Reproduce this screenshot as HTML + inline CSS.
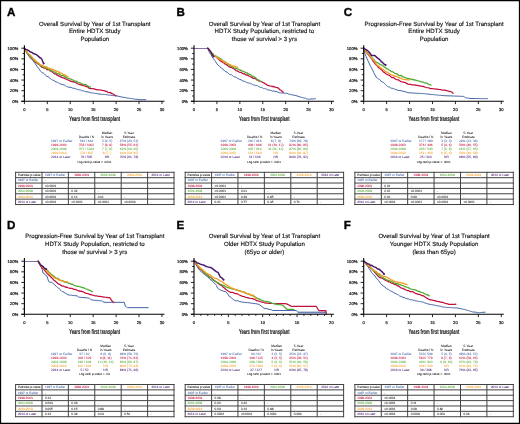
<!DOCTYPE html>
<html><head><meta charset="utf-8"><style>
html,body{margin:0;padding:0;background:#fff;width:520px;height:424px;overflow:hidden}
svg{display:block;font-family:"Liberation Sans", sans-serif}
#wrap{will-change:transform;width:520px;height:424px}
</style></head><body><div id="wrap">
<svg width="520" height="424" viewBox="0 0 520 424" text-rendering="geometricPrecision">
<rect x="0" y="0" width="520" height="424" fill="#fff"/>
<text x="6.9" y="16.4" font-size="11.6" fill="#000" text-anchor="start" font-weight="bold" stroke="#000" stroke-width="0.35" >A</text>
<text x="94.8" y="25.5" font-size="6.1" fill="#111" text-anchor="middle" font-weight="normal" stroke="#111" stroke-width="0.14" >Overall Survival by Year of 1st Transplant</text>
<text x="94.8" y="33.05" font-size="6.1" fill="#111" text-anchor="middle" font-weight="normal" stroke="#111" stroke-width="0.14" >Entire HDTX Study</text>
<text x="94.8" y="40.6" font-size="6.1" fill="#111" text-anchor="middle" font-weight="normal" stroke="#111" stroke-width="0.14" >Population</text>
<path d="M24.4,48.2 L25.49,50.26 L26.57,52.52 L27.66,54.57 L28.91,56.04 L30.16,57.93 L31.42,59.19 L32.6,60.33 L33.78,61.75 L34.96,63.35 L36.14,64.93 L37.33,66.91 L38.52,68.23 L39.71,70.07 L40.91,71.56 L42.09,72.73 L43.27,72.99 L44.45,73.88 L45.63,75.28 L46.8,76.51 L47.97,76.53 L49.14,77.57 L50.31,78.47 L51.49,79.31 L52.67,80.13 L53.85,80.49 L55.03,81.39 L56.19,81.96 L57.35,82.27 L58.51,82.83 L59.67,83.86 L60.84,83.79 L62,84.57 L63.14,84.6 L64.28,85 L65.42,85.67 L66.56,86.5 L67.7,86.92 L68.84,87.22 L69.97,87.33 L71.02,87.35 L72.06,88.01 L73.11,88.25 L74.15,88.21 L75.19,88.83 L76.24,88.97 L77.28,89.32 L78.33,89.81 L79.37,89.78 L80.41,89.91 L81.46,90.59 L82.5,90.83 L83.55,90.95 L84.66,91.28 L85.78,91.77 L86.89,91.8 L88.01,91.9 L89.12,92.27 L90.24,92.64 L91.33,92.79 L92.42,92.85 L93.51,93.24 L94.6,93.26 L95.69,93.48 L96.78,93.57 L97.87,93.88 L98.96,93.83 L100.05,94.08 L101.15,94.27 L102.25,94.36 L103.35,94.33 L104.45,94.5 L105.5,94.51 L106.54,94.77 L107.58,94.9 L108.62,95.07 L109.66,95.19 L110.71,95.23 L111.75,95.47 L112.79,95.61 L113.83,95.64 L114.87,95.85 L115.92,95.88 L116.94,96.01 L117.97,96.13 L119,96.33 L120.03,96.64 L121.06,96.87 L122.09,97.02 L123.12,97.38 L124.14,97.29 L125.17,97.62 L126.2,97.81 L127.23,98.1 L128.26,98.13 L129.29,98.27 L130.31,98.49 L131.4,98.67 L132.49,98.68 L133.58,98.89 L134.67,99.18 L135.76,99.24 L136.85,99.28 L137.94,99.55 L139.03,99.71 L145.9,99.71" fill="none" stroke="#4563a8" stroke-width="1.0" stroke-linejoin="round" stroke-linecap="round"/>
<path d="M24.4,48.2 L25.47,50.02 L26.54,51.68 L27.61,53.51 L28.88,54.52 L30.15,56.37 L31.42,57.76 L32.6,58.95 L33.78,60.06 L34.96,61.64 L36.14,62.54 L37.33,63.45 L38.52,64.27 L39.71,65.04 L40.91,66.25 L41.95,67.17 L42.99,67.5 L44.04,68.24 L45.08,68.08 L46.13,68.72 L47.17,69.88 L48.22,69.51 L49.26,70.06 L50.31,71.03 L51.37,71.47 L52.43,72.08 L53.49,73.1 L54.56,73.81 L55.62,73.9 L56.68,74.93 L57.75,75.38 L58.81,75.91 L59.87,76.7 L60.93,76.86 L62,77.41 L63.14,77.96 L64.28,78.08 L65.42,78.89 L66.56,79.27 L67.7,79.91 L68.84,80.25 L69.97,80.91 L71.02,81.31 L72.06,81.81 L73.11,81.62 L74.15,81.98 L75.19,82.47 L76.24,82.93 L77.28,83.6 L78.33,84.03 L79.37,84.34 L80.41,84.87 L81.46,84.7 L82.5,85.35 L83.55,85.64 L84.66,85.78 L85.78,86.62 L86.89,86.56 L88.01,87.1 L89.12,88.28 L90.24,88.29 L91.29,88.63 L92.33,88.53 L93.38,88.94 L94.42,88.93 L95.47,89.35 L96.61,89.54 L97.76,89.8 L98.91,89.79 L100.05,89.99 L101.15,90.07 L102.25,90.41 L103.35,90.65 L104.45,90.68 L105.59,91.37 L106.72,91.3 L107.85,92.27 L109.22,92.54 L110.6,92.27 L111.51,93.6 L112.66,93.8 L113.81,94.4 L114.86,95.37 L115.92,95.62" fill="none" stroke="#c20f3e" stroke-width="1.25" stroke-linejoin="round" stroke-linecap="round"/>
<path d="M24.4,48.2 L25.47,49.99 L26.54,51.59 L27.61,53.51 L28.88,54.59 L30.15,56.33 L31.42,57.23 L32.6,58.89 L33.78,59.74 L34.96,61.03 L36.14,62.01 L37.33,62.64 L38.52,63.68 L39.71,64.7 L40.91,65.72 L41.95,66.14 L42.99,66.51 L44.04,67.48 L45.08,67.67 L46.13,68.41 L47.17,68.17 L48.22,69.45 L49.26,69.19 L50.31,69.97 L51.37,70.88 L52.43,70.81 L53.49,71.65 L54.56,72.09 L55.62,72.18 L56.68,73.47 L57.75,73.94 L58.81,73.63 L59.87,74.52 L60.93,75.43 L62,75.55 L63.14,75.57 L64.28,76.07 L65.42,77.28 L66.56,77.47 L67.7,78.19 L68.84,78.49 L69.97,78.79 L71.02,79.11 L72.07,79.97 L73.12,79.92 L74.17,80.94 L75.22,81.27 L76.27,81.12 L77.32,81.93 L78.37,82.35 L79.42,82.72 L80.44,83.03 L81.45,83.53 L82.47,84 L83.49,84.7 L84.51,84.5 L85.52,84.69 L86.54,85.08 L87.56,85.74 L88.57,86.4 L89.59,86.79 L90.61,87.07" fill="none" stroke="#55aa36" stroke-width="1.3" stroke-linejoin="round" stroke-linecap="round"/>
<path d="M24.4,48.2 L25.47,50.02 L26.54,51.21 L27.61,52.98 L28.88,53.94 L30.15,54.91 L31.42,56.38 L32.6,57.86 L33.78,59 L34.96,60.26 L36.14,61.1 L37.33,62.32 L38.52,62.79 L39.71,64.32 L40.91,64.93 L41.95,65.31 L42.99,65.99 L44.04,66.32 L45.08,66.61 L46.13,66.67 L47.17,67.28 L48.22,68.19 L49.26,68.38 L50.31,68.59 L51.37,69.4 L52.43,69.18 L53.49,69.71 L54.56,70.19 L55.62,70.64 L56.68,71.19 L57.75,71.47 L58.81,72.09 L59.87,73.08 L60.93,72.99 L62,73.79 L63.19,74.37 L64.38,74.68 L65.57,75.42 L66.77,76.11 L67.96,76.61" fill="none" stroke="#f39c1e" stroke-width="1.3" stroke-linejoin="round" stroke-linecap="round"/>
<path d="M24.4,48.2 L25.78,49.37 L27.15,49.79 L28.27,50.36 L29.38,51.17 L30.5,52.08 L31.68,52.16 L32.86,53.27 L34.04,53.77 L35.22,54.04 L36.32,54.6 L37.42,55.45 L38.52,56.38 L39.62,57.5 L40.72,58.08 L41.82,59.19 L42.97,62.01 L43.66,63.44" fill="none" stroke="#45166e" stroke-width="1.45" stroke-linejoin="round" stroke-linecap="round"/>
<circle cx="43.66" cy="63.44" r="0.95" fill="#45166e"/>
<path d="M24.4,45.3 V101.3" stroke="#000" stroke-width="1.1" fill="none"/>
<path d="M21.3,101.3 H24.4 M22.6,95.99 H24.4 M21.3,90.68 H24.4 M22.6,85.37 H24.4 M21.3,80.06 H24.4 M22.6,74.75 H24.4 M21.3,69.44 H24.4 M22.6,64.13 H24.4 M21.3,58.82 H24.4 M22.6,53.51 H24.4 M21.3,48.2 H24.4" stroke="#000" stroke-width="0.85" fill="none"/>
<text x="18.2" y="102.8" font-size="4.2" fill="#222" text-anchor="end" font-weight="normal" stroke="#222" stroke-width="0.2" >0%</text>
<text x="18.2" y="92.18" font-size="4.2" fill="#222" text-anchor="end" font-weight="normal" stroke="#222" stroke-width="0.2" >20%</text>
<text x="18.2" y="81.56" font-size="4.2" fill="#222" text-anchor="end" font-weight="normal" stroke="#222" stroke-width="0.2" >40%</text>
<text x="18.2" y="70.94" font-size="4.2" fill="#222" text-anchor="end" font-weight="normal" stroke="#222" stroke-width="0.2" >60%</text>
<text x="18.2" y="60.32" font-size="4.2" fill="#222" text-anchor="end" font-weight="normal" stroke="#222" stroke-width="0.2" >80%</text>
<text x="18.2" y="49.7" font-size="4.2" fill="#222" text-anchor="end" font-weight="normal" stroke="#222" stroke-width="0.2" >100%</text>
<path d="M21.3,101.3 H164.45" stroke="#000" stroke-width="1.1" fill="none"/>
<path d="M24.4,101.3 V104.1 M47.33,101.3 V104.1 M70.25,101.3 V104.1 M93.18,101.3 V104.1 M116.1,101.3 V104.1 M139.03,101.3 V104.1 M161.95,101.3 V104.1" stroke="#000" stroke-width="0.85" fill="none"/>
<text x="24.4" y="111.1" font-size="4.1" fill="#222" text-anchor="middle" font-weight="normal" stroke="#222" stroke-width="0.2" >0</text>
<text x="47.33" y="111.1" font-size="4.1" fill="#222" text-anchor="middle" font-weight="normal" stroke="#222" stroke-width="0.2" >5</text>
<text x="70.25" y="111.1" font-size="4.1" fill="#222" text-anchor="middle" font-weight="normal" stroke="#222" stroke-width="0.2" >10</text>
<text x="93.18" y="111.1" font-size="4.1" fill="#222" text-anchor="middle" font-weight="normal" stroke="#222" stroke-width="0.2" >15</text>
<text x="116.1" y="111.1" font-size="4.1" fill="#222" text-anchor="middle" font-weight="normal" stroke="#222" stroke-width="0.2" >20</text>
<text x="139.03" y="111.1" font-size="4.1" fill="#222" text-anchor="middle" font-weight="normal" stroke="#222" stroke-width="0.2" >25</text>
<text x="161.95" y="111.1" font-size="4.1" fill="#222" text-anchor="middle" font-weight="normal" stroke="#222" stroke-width="0.2" >30</text>
<text x="0" y="0" font-size="6.8" font-weight="bold" fill="#1a1a1a" stroke="#1a1a1a" stroke-width="0.12" transform="translate(69.3,121.1) scale(0.6,1)">Years from first transplant</text>
<text x="86.5" y="138.2" font-size="3.25" fill="#111" text-anchor="middle" font-weight="normal" stroke="#111" stroke-width="0.04" >Deaths / N</text>
<text x="107.1" y="134.2" font-size="3.25" fill="#111" text-anchor="middle" font-weight="normal" stroke="#111" stroke-width="0.04" >Median</text>
<text x="107.1" y="138.2" font-size="3.25" fill="#111" text-anchor="middle" font-weight="normal" stroke="#111" stroke-width="0.04" >in Years</text>
<text x="129" y="134.2" font-size="3.25" fill="#111" text-anchor="middle" font-weight="normal" stroke="#111" stroke-width="0.04" >5-Year</text>
<text x="129" y="138.2" font-size="3.25" fill="#111" text-anchor="middle" font-weight="normal" stroke="#111" stroke-width="0.04" >Estimate</text>
<text x="51" y="142.4" font-size="3.25" fill="#4563a8" text-anchor="start" font-weight="normal" stroke="#4563a8" stroke-width="0.04" >1997 or Earlier</text>
<text x="86.5" y="142.4" font-size="3.25" fill="#4563a8" text-anchor="middle" font-weight="normal" stroke="#4563a8" stroke-width="0.04" >543 / 661</text>
<text x="107.1" y="142.4" font-size="3.25" fill="#4563a8" text-anchor="middle" font-weight="normal" stroke="#4563a8" stroke-width="0.04" >5 (4, 5)</text>
<text x="129" y="142.4" font-size="3.25" fill="#4563a8" text-anchor="middle" font-weight="normal" stroke="#4563a8" stroke-width="0.04" >47% (43, 51)</text>
<text x="51" y="146.28" font-size="3.25" fill="#c20f3e" text-anchor="start" font-weight="normal" stroke="#c20f3e" stroke-width="0.04" >1998-2003</text>
<text x="86.5" y="146.28" font-size="3.25" fill="#c20f3e" text-anchor="middle" font-weight="normal" stroke="#c20f3e" stroke-width="0.04" >758 / 1002</text>
<text x="107.1" y="146.28" font-size="3.25" fill="#c20f3e" text-anchor="middle" font-weight="normal" stroke="#c20f3e" stroke-width="0.04" >7 (6, 8)</text>
<text x="129" y="146.28" font-size="3.25" fill="#c20f3e" text-anchor="middle" font-weight="normal" stroke="#c20f3e" stroke-width="0.04" >58% (55, 61)</text>
<text x="51" y="150.16" font-size="3.25" fill="#55aa36" text-anchor="start" font-weight="normal" stroke="#55aa36" stroke-width="0.04" >2004-2008</text>
<text x="86.5" y="150.16" font-size="3.25" fill="#55aa36" text-anchor="middle" font-weight="normal" stroke="#55aa36" stroke-width="0.04" >767 / 1264</text>
<text x="107.1" y="150.16" font-size="3.25" fill="#55aa36" text-anchor="middle" font-weight="normal" stroke="#55aa36" stroke-width="0.04" >7 (7, 8)</text>
<text x="129" y="150.16" font-size="3.25" fill="#55aa36" text-anchor="middle" font-weight="normal" stroke="#55aa36" stroke-width="0.04" >62% (60, 65)</text>
<text x="51" y="154.04" font-size="3.25" fill="#f39c1e" text-anchor="start" font-weight="normal" stroke="#f39c1e" stroke-width="0.04" >2009-2013</text>
<text x="86.5" y="154.04" font-size="3.25" fill="#f39c1e" text-anchor="middle" font-weight="normal" stroke="#f39c1e" stroke-width="0.04" >274 / 807</text>
<text x="107.1" y="154.04" font-size="3.25" fill="#f39c1e" text-anchor="middle" font-weight="normal" stroke="#f39c1e" stroke-width="0.04" >8 (7, )</text>
<text x="129" y="154.04" font-size="3.25" fill="#f39c1e" text-anchor="middle" font-weight="normal" stroke="#f39c1e" stroke-width="0.04" >61% (58, 65)</text>
<text x="51" y="157.92" font-size="3.25" fill="#45166e" text-anchor="start" font-weight="normal" stroke="#45166e" stroke-width="0.04" >2014 or Later</text>
<text x="86.5" y="157.92" font-size="3.25" fill="#45166e" text-anchor="middle" font-weight="normal" stroke="#45166e" stroke-width="0.04" >76 / 505</text>
<text x="107.1" y="157.92" font-size="3.25" fill="#45166e" text-anchor="middle" font-weight="normal" stroke="#45166e" stroke-width="0.04" >NR</text>
<text x="129" y="157.92" font-size="3.25" fill="#45166e" text-anchor="middle" font-weight="normal" stroke="#45166e" stroke-width="0.04" >70% (61, 78)</text>
<text x="94.4" y="163" font-size="3.05" fill="#111" text-anchor="middle" font-weight="normal" stroke="#111" stroke-width="0.04" >Log-rank p-value &lt; .0001</text>
<path d="M15.6,172.3 V204.52 M42,172.3 V204.52 M68.35,172.3 V204.52 M94.75,172.3 V204.52 M121.2,172.3 V204.52 M147.6,172.3 V204.52 M174,172.3 V204.52 M15.6,172.3 H174 M15.6,177.67 H174 M15.6,183.04 H174 M15.6,188.41 H174 M15.6,193.78 H174 M15.6,199.15 H174 M15.6,204.52 H174" stroke="#444" stroke-width="1.0" fill="none" stroke-linecap="square"/>
<text x="17.9" y="176.1" font-size="3.1" fill="#111" text-anchor="start" font-weight="normal" stroke="#111" stroke-width="0.045" >Pairwise p-value</text>
<text x="55.17" y="176.1" font-size="3.1" fill="#4563a8" text-anchor="middle" font-weight="normal" stroke="#4563a8" stroke-width="0.045" >1997 or Earlier</text>
<text x="81.55" y="176.1" font-size="3.1" fill="#c20f3e" text-anchor="middle" font-weight="normal" stroke="#c20f3e" stroke-width="0.045" >1998-2003</text>
<text x="107.97" y="176.1" font-size="3.1" fill="#55aa36" text-anchor="middle" font-weight="normal" stroke="#55aa36" stroke-width="0.045" >2004-2008</text>
<text x="134.4" y="176.1" font-size="3.1" fill="#f39c1e" text-anchor="middle" font-weight="normal" stroke="#f39c1e" stroke-width="0.045" >2009-2013</text>
<text x="160.8" y="176.1" font-size="3.1" fill="#45166e" text-anchor="middle" font-weight="normal" stroke="#45166e" stroke-width="0.045" >2014 or Later</text>
<text x="17.9" y="181.47" font-size="3.1" fill="#4563a8" text-anchor="start" font-weight="normal" stroke="#4563a8" stroke-width="0.045" >1997 or Earlier</text>
<text x="45" y="181.47" font-size="3.1" fill="#222" text-anchor="start" font-weight="normal" stroke="#222" stroke-width="0.045" >-</text>
<text x="17.9" y="186.84" font-size="3.1" fill="#c20f3e" text-anchor="start" font-weight="normal" stroke="#c20f3e" stroke-width="0.045" >1998-2003</text>
<text x="45" y="186.84" font-size="3.1" fill="#222" text-anchor="start" font-weight="normal" stroke="#222" stroke-width="0.045" >&lt;0.0001</text>
<text x="71.35" y="186.84" font-size="3.1" fill="#222" text-anchor="start" font-weight="normal" stroke="#222" stroke-width="0.045" >-</text>
<text x="17.9" y="192.21" font-size="3.1" fill="#55aa36" text-anchor="start" font-weight="normal" stroke="#55aa36" stroke-width="0.045" >2004-2008</text>
<text x="45" y="192.21" font-size="3.1" fill="#222" text-anchor="start" font-weight="normal" stroke="#222" stroke-width="0.045" >&lt;0.0001</text>
<text x="71.35" y="192.21" font-size="3.1" fill="#222" text-anchor="start" font-weight="normal" stroke="#222" stroke-width="0.045" >0.42</text>
<text x="97.75" y="192.21" font-size="3.1" fill="#222" text-anchor="start" font-weight="normal" stroke="#222" stroke-width="0.045" >-</text>
<text x="17.9" y="197.58" font-size="3.1" fill="#f39c1e" text-anchor="start" font-weight="normal" stroke="#f39c1e" stroke-width="0.045" >2009-2013</text>
<text x="45" y="197.58" font-size="3.1" fill="#222" text-anchor="start" font-weight="normal" stroke="#222" stroke-width="0.045" >&lt;0.0001</text>
<text x="71.35" y="197.58" font-size="3.1" fill="#222" text-anchor="start" font-weight="normal" stroke="#222" stroke-width="0.045" >0.16</text>
<text x="97.75" y="197.58" font-size="3.1" fill="#222" text-anchor="start" font-weight="normal" stroke="#222" stroke-width="0.045" >0.61</text>
<text x="124.2" y="197.58" font-size="3.1" fill="#222" text-anchor="start" font-weight="normal" stroke="#222" stroke-width="0.045" >-</text>
<text x="17.9" y="202.95" font-size="3.1" fill="#45166e" text-anchor="start" font-weight="normal" stroke="#45166e" stroke-width="0.045" >2014 or Later</text>
<text x="45" y="202.95" font-size="3.1" fill="#222" text-anchor="start" font-weight="normal" stroke="#222" stroke-width="0.045" >&lt;0.0001</text>
<text x="71.35" y="202.95" font-size="3.1" fill="#222" text-anchor="start" font-weight="normal" stroke="#222" stroke-width="0.045" >&lt;0.0001</text>
<text x="97.75" y="202.95" font-size="3.1" fill="#222" text-anchor="start" font-weight="normal" stroke="#222" stroke-width="0.045" >&lt;0.0001</text>
<text x="124.2" y="202.95" font-size="3.1" fill="#222" text-anchor="start" font-weight="normal" stroke="#222" stroke-width="0.045" >&lt;0.0003</text>
<text x="150.6" y="202.95" font-size="3.1" fill="#222" text-anchor="start" font-weight="normal" stroke="#222" stroke-width="0.045" >-</text>
<text x="176.5" y="16.4" font-size="11.6" fill="#000" text-anchor="start" font-weight="bold" stroke="#000" stroke-width="0.35" >B</text>
<text x="264.4" y="25.5" font-size="6.1" fill="#111" text-anchor="middle" font-weight="normal" stroke="#111" stroke-width="0.14" >Overall Survival by Year of 1st Transplant</text>
<text x="264.4" y="33.05" font-size="6.1" fill="#111" text-anchor="middle" font-weight="normal" stroke="#111" stroke-width="0.14" >HDTX Study Population, restricted to</text>
<text x="264.4" y="40.6" font-size="6.1" fill="#111" text-anchor="middle" font-weight="normal" stroke="#111" stroke-width="0.14" >those w/ survival &gt; 3 yrs</text>
<path d="M194,48.5 H207.75" stroke="#6a4a90" stroke-width="0.8" fill="none"/>
<path d="M207.75,48.2 L209.45,52.61 L210.9,54.53 L212.34,57.23 L213.49,58.72 L214.63,60.32 L215.78,61.86 L216.93,63.92 L218.13,65.32 L219.33,66.12 L220.54,67.04 L221.74,68.59 L222.85,69.04 L223.96,70.13 L225.06,71.32 L226.17,71.9 L227.28,72.15 L228.39,73.42 L229.43,74.36 L230.47,74.71 L231.51,74.66 L232.56,75.69 L233.6,76.48 L234.64,76.93 L235.68,76.92 L236.72,78.02 L237.77,78.49 L238.81,78.85 L239.85,79.53 L240.95,79.69 L242.05,80.39 L243.15,81.16 L244.25,81.17 L245.35,81.65 L246.37,82.4 L247.39,82.72 L248.41,83.02 L249.43,82.98 L250.45,83.69 L251.47,83.73 L252.48,84.53 L253.5,84.93 L254.52,85 L255.54,85.72 L256.55,85.55 L257.57,85.79 L258.58,86.64 L259.6,86.98 L260.61,87.51 L261.63,87.38 L262.64,88 L263.66,88.49 L264.67,88.45 L265.69,88.84 L266.7,89.32 L267.72,89.9 L268.74,89.99 L269.78,90.17 L270.82,90.47 L271.86,90.79 L272.9,91.19 L273.95,91.04 L274.99,91.33 L276.03,91.68 L277.07,91.77 L278.11,92.25 L279.16,92.63 L280.2,92.8 L281.3,92.99 L282.4,92.99 L283.5,93.12 L284.6,93.24 L285.7,93.33 L286.72,93.32 L287.74,93.63 L288.76,94.24 L289.78,94.08 L290.79,94.77 L291.81,94.67 L292.83,95.08 L293.85,95.11 L294.87,95.46 L295.93,95.48 L296.99,96.01 L298.04,96.16 L299.1,96.87 L300.16,96.79 L301.22,97.4 L302.28,97.49 L303.33,97.85 L304.39,98.29 L305.45,98.17 L306.51,98.85 L307.57,99.03 L308.62,99.18 L309.77,99.16 L310.92,98.97 L312.06,98.94 L313.21,98.9 L314.36,98.81 L315.5,98.64" fill="none" stroke="#4563a8" stroke-width="1.0" stroke-linejoin="round" stroke-linecap="round"/>
<path d="M207.75,48.2 L208.79,49.98 L209.82,50.94 L210.85,52.45 L211.88,54.04 L213,54.92 L214.12,56.02 L215.24,56.33 L216.36,57.17 L217.49,58.31 L218.61,59.17 L219.73,60.28 L220.85,61.36 L221.97,61.74 L223.06,62.56 L224.15,63.05 L225.24,64.24 L226.32,64.25 L227.41,65.48 L228.5,66.18 L229.59,67.06 L230.68,67.32 L231.73,67.4 L232.79,68.2 L233.84,68.62 L234.9,69.42 L235.95,70.53 L237.01,70.81 L238.06,71.2 L239.12,72.12 L240.17,72.31 L241.21,72.32 L242.24,73.28 L243.28,73.89 L244.32,73.72 L245.35,74.43 L246.37,75.24 L247.39,74.92 L248.41,75.82 L249.43,76.18 L250.45,76.82 L251.47,77.14 L252.48,77.87 L253.5,78.46 L254.52,78.47 L255.56,78.65 L256.6,79.78 L257.64,79.79 L258.68,80.87 L259.72,80.67 L260.76,81.65 L261.9,81.85 L263.04,82.56 L264.18,83.13 L265.32,83.88 L266.46,84.32 L267.6,85.47 L268.74,85.69 L269.78,85.94 L270.82,86 L271.87,86.55 L272.91,86.42 L273.96,86.68 L275,87.15 L276.05,87.41 L277.09,87.6 L278.13,87.81 L279.17,89.01 L280.2,89.99 L281.27,90.28 L282.34,91.62 L283.41,92.27" fill="none" stroke="#c20f3e" stroke-width="1.25" stroke-linejoin="round" stroke-linecap="round"/>
<path d="M207.75,48.2 L208.79,49.09 L209.82,51.2 L210.85,52.64 L211.88,53.51 L213,53.74 L214.12,55.23 L215.24,56 L216.36,56.2 L217.49,57.2 L218.61,57.39 L219.73,58.72 L220.85,58.73 L221.97,59.88 L223.06,60.85 L224.15,61.38 L225.24,61.86 L226.32,62.89 L227.41,63.46 L228.5,64.46 L229.59,65.89 L230.68,66.25 L231.73,66.34 L232.79,67.06 L233.84,67.76 L234.9,68.31 L235.95,68.14 L237.01,68.83 L238.06,68.95 L239.12,69.54 L240.17,70.24 L241.21,70.24 L242.24,71.01 L243.28,71.3 L244.32,71.79 L245.35,72.31 L246.37,73.08 L247.39,72.96 L248.41,74.12 L249.43,74.21 L250.45,74.59 L251.47,75.42 L252.48,76.45 L253.5,76.34 L254.52,77.19 L255.56,77.75 L256.6,78.93 L257.64,79.77 L258.68,80.03 L259.72,81.22 L260.76,81.49" fill="none" stroke="#55aa36" stroke-width="1.3" stroke-linejoin="round" stroke-linecap="round"/>
<path d="M207.75,48.2 L208.79,49.25 L209.82,50.69 L210.85,52.21 L211.88,54.04 L213,55.15 L214.12,55.37 L215.24,56.24 L216.36,56.84 L217.49,57.93 L218.61,58.58 L219.73,59.05 L220.85,59.97 L221.97,60.41 L223.06,61.05 L224.15,62.06 L225.24,62.6 L226.32,62.6 L227.41,63.48 L228.5,63.99 L229.59,64.37 L230.68,65.19 L231.83,65.64 L232.97,66.2 L234.12,66.06 L235.26,66.55 L236.41,66.85 L237.56,67.32" fill="none" stroke="#f39c1e" stroke-width="1.3" stroke-linejoin="round" stroke-linecap="round"/>
<path d="M207.75,48.2 L208.9,49.32 L210.05,50.86 L211.19,52.39 L212.34,54.88 L213.49,56.43" fill="none" stroke="#45166e" stroke-width="1.45" stroke-linejoin="round" stroke-linecap="round"/>
<circle cx="213.49" cy="56.43" r="0.95" fill="#45166e"/>
<path d="M194,45.3 V101.3" stroke="#000" stroke-width="1.1" fill="none"/>
<path d="M190.9,101.3 H194 M192.2,95.99 H194 M190.9,90.68 H194 M192.2,85.37 H194 M190.9,80.06 H194 M192.2,74.75 H194 M190.9,69.44 H194 M192.2,64.13 H194 M190.9,58.82 H194 M192.2,53.51 H194 M190.9,48.2 H194" stroke="#000" stroke-width="0.85" fill="none"/>
<text x="187.8" y="102.8" font-size="4.2" fill="#222" text-anchor="end" font-weight="normal" stroke="#222" stroke-width="0.2" >0%</text>
<text x="187.8" y="92.18" font-size="4.2" fill="#222" text-anchor="end" font-weight="normal" stroke="#222" stroke-width="0.2" >20%</text>
<text x="187.8" y="81.56" font-size="4.2" fill="#222" text-anchor="end" font-weight="normal" stroke="#222" stroke-width="0.2" >40%</text>
<text x="187.8" y="70.94" font-size="4.2" fill="#222" text-anchor="end" font-weight="normal" stroke="#222" stroke-width="0.2" >60%</text>
<text x="187.8" y="60.32" font-size="4.2" fill="#222" text-anchor="end" font-weight="normal" stroke="#222" stroke-width="0.2" >80%</text>
<text x="187.8" y="49.7" font-size="4.2" fill="#222" text-anchor="end" font-weight="normal" stroke="#222" stroke-width="0.2" >100%</text>
<path d="M190.9,101.3 H334.05" stroke="#000" stroke-width="1.1" fill="none"/>
<path d="M194,101.3 V104.1 M216.93,101.3 V104.1 M239.85,101.3 V104.1 M262.77,101.3 V104.1 M285.7,101.3 V104.1 M308.62,101.3 V104.1 M331.55,101.3 V104.1" stroke="#000" stroke-width="0.85" fill="none"/>
<text x="194" y="111.1" font-size="4.1" fill="#222" text-anchor="middle" font-weight="normal" stroke="#222" stroke-width="0.2" >0</text>
<text x="216.93" y="111.1" font-size="4.1" fill="#222" text-anchor="middle" font-weight="normal" stroke="#222" stroke-width="0.2" >5</text>
<text x="239.85" y="111.1" font-size="4.1" fill="#222" text-anchor="middle" font-weight="normal" stroke="#222" stroke-width="0.2" >10</text>
<text x="262.77" y="111.1" font-size="4.1" fill="#222" text-anchor="middle" font-weight="normal" stroke="#222" stroke-width="0.2" >15</text>
<text x="285.7" y="111.1" font-size="4.1" fill="#222" text-anchor="middle" font-weight="normal" stroke="#222" stroke-width="0.2" >20</text>
<text x="308.62" y="111.1" font-size="4.1" fill="#222" text-anchor="middle" font-weight="normal" stroke="#222" stroke-width="0.2" >25</text>
<text x="331.55" y="111.1" font-size="4.1" fill="#222" text-anchor="middle" font-weight="normal" stroke="#222" stroke-width="0.2" >30</text>
<text x="0" y="0" font-size="6.8" font-weight="bold" fill="#1a1a1a" stroke="#1a1a1a" stroke-width="0.12" transform="translate(238.9,121.1) scale(0.6,1)">Years from first transplant</text>
<text x="254.7" y="138.2" font-size="3.25" fill="#111" text-anchor="middle" font-weight="normal" stroke="#111" stroke-width="0.04" >Deaths / N</text>
<text x="275.8" y="134.2" font-size="3.25" fill="#111" text-anchor="middle" font-weight="normal" stroke="#111" stroke-width="0.04" >Median</text>
<text x="275.8" y="138.2" font-size="3.25" fill="#111" text-anchor="middle" font-weight="normal" stroke="#111" stroke-width="0.04" >in Years</text>
<text x="298.6" y="134.2" font-size="3.25" fill="#111" text-anchor="middle" font-weight="normal" stroke="#111" stroke-width="0.04" >5-Year</text>
<text x="298.6" y="138.2" font-size="3.25" fill="#111" text-anchor="middle" font-weight="normal" stroke="#111" stroke-width="0.04" >Estimate</text>
<text x="220.6" y="142.4" font-size="3.25" fill="#4563a8" text-anchor="start" font-weight="normal" stroke="#4563a8" stroke-width="0.04" >1997 or Earlier</text>
<text x="254.7" y="142.4" font-size="3.25" fill="#4563a8" text-anchor="middle" font-weight="normal" stroke="#4563a8" stroke-width="0.04" >265 / 416</text>
<text x="275.8" y="142.4" font-size="3.25" fill="#4563a8" text-anchor="middle" font-weight="normal" stroke="#4563a8" stroke-width="0.04" >8 (7, 9)</text>
<text x="298.6" y="142.4" font-size="3.25" fill="#4563a8" text-anchor="middle" font-weight="normal" stroke="#4563a8" stroke-width="0.04" >74% (69, 78)</text>
<text x="220.6" y="146.28" font-size="3.25" fill="#c20f3e" text-anchor="start" font-weight="normal" stroke="#c20f3e" stroke-width="0.04" >1998-2003</text>
<text x="254.7" y="146.28" font-size="3.25" fill="#c20f3e" text-anchor="middle" font-weight="normal" stroke="#c20f3e" stroke-width="0.04" >408 / 698</text>
<text x="275.8" y="146.28" font-size="3.25" fill="#c20f3e" text-anchor="middle" font-weight="normal" stroke="#c20f3e" stroke-width="0.04" >11 (10, 12)</text>
<text x="298.6" y="146.28" font-size="3.25" fill="#c20f3e" text-anchor="middle" font-weight="normal" stroke="#c20f3e" stroke-width="0.04" >82% (80, 85)</text>
<text x="220.6" y="150.16" font-size="3.25" fill="#55aa36" text-anchor="start" font-weight="normal" stroke="#55aa36" stroke-width="0.04" >2004-2008</text>
<text x="254.7" y="150.16" font-size="3.25" fill="#55aa36" text-anchor="middle" font-weight="normal" stroke="#55aa36" stroke-width="0.04" >435 / 914</text>
<text x="275.8" y="150.16" font-size="3.25" fill="#55aa36" text-anchor="middle" font-weight="normal" stroke="#55aa36" stroke-width="0.04" >11 (11, 12)</text>
<text x="298.6" y="150.16" font-size="3.25" fill="#55aa36" text-anchor="middle" font-weight="normal" stroke="#55aa36" stroke-width="0.04" >87% (85, 89)</text>
<text x="220.6" y="154.04" font-size="3.25" fill="#f39c1e" text-anchor="start" font-weight="normal" stroke="#f39c1e" stroke-width="0.04" >2009-2013</text>
<text x="254.7" y="154.04" font-size="3.25" fill="#f39c1e" text-anchor="middle" font-weight="normal" stroke="#f39c1e" stroke-width="0.04" >151 / 549</text>
<text x="275.8" y="154.04" font-size="3.25" fill="#f39c1e" text-anchor="middle" font-weight="normal" stroke="#f39c1e" stroke-width="0.04" >NR</text>
<text x="298.6" y="154.04" font-size="3.25" fill="#f39c1e" text-anchor="middle" font-weight="normal" stroke="#f39c1e" stroke-width="0.04" >84% (81, 87)</text>
<text x="220.6" y="157.92" font-size="3.25" fill="#45166e" text-anchor="start" font-weight="normal" stroke="#45166e" stroke-width="0.04" >2014 or Later</text>
<text x="254.7" y="157.92" font-size="3.25" fill="#45166e" text-anchor="middle" font-weight="normal" stroke="#45166e" stroke-width="0.04" >11 / 136</text>
<text x="275.8" y="157.92" font-size="3.25" fill="#45166e" text-anchor="middle" font-weight="normal" stroke="#45166e" stroke-width="0.04" >NR</text>
<text x="298.6" y="157.92" font-size="3.25" fill="#45166e" text-anchor="middle" font-weight="normal" stroke="#45166e" stroke-width="0.04" >84% (76, 92)</text>
<text x="264" y="163" font-size="3.05" fill="#111" text-anchor="middle" font-weight="normal" stroke="#111" stroke-width="0.04" >Log-rank p-value &lt; .0001</text>
<path d="M185.2,172.3 V204.52 M211.6,172.3 V204.52 M237.95,172.3 V204.52 M264.35,172.3 V204.52 M290.8,172.3 V204.52 M317.2,172.3 V204.52 M343.6,172.3 V204.52 M185.2,172.3 H343.6 M185.2,177.67 H343.6 M185.2,183.04 H343.6 M185.2,188.41 H343.6 M185.2,193.78 H343.6 M185.2,199.15 H343.6 M185.2,204.52 H343.6" stroke="#444" stroke-width="1.0" fill="none" stroke-linecap="square"/>
<text x="187.5" y="176.1" font-size="3.1" fill="#111" text-anchor="start" font-weight="normal" stroke="#111" stroke-width="0.045" >Pairwise p-value</text>
<text x="224.77" y="176.1" font-size="3.1" fill="#4563a8" text-anchor="middle" font-weight="normal" stroke="#4563a8" stroke-width="0.045" >1997 or Earlier</text>
<text x="251.15" y="176.1" font-size="3.1" fill="#c20f3e" text-anchor="middle" font-weight="normal" stroke="#c20f3e" stroke-width="0.045" >1998-2003</text>
<text x="277.57" y="176.1" font-size="3.1" fill="#55aa36" text-anchor="middle" font-weight="normal" stroke="#55aa36" stroke-width="0.045" >2004-2008</text>
<text x="304" y="176.1" font-size="3.1" fill="#f39c1e" text-anchor="middle" font-weight="normal" stroke="#f39c1e" stroke-width="0.045" >2009-2013</text>
<text x="330.4" y="176.1" font-size="3.1" fill="#45166e" text-anchor="middle" font-weight="normal" stroke="#45166e" stroke-width="0.045" >2014 or Later</text>
<text x="187.5" y="181.47" font-size="3.1" fill="#4563a8" text-anchor="start" font-weight="normal" stroke="#4563a8" stroke-width="0.045" >1997 or Earlier</text>
<text x="214.6" y="181.47" font-size="3.1" fill="#222" text-anchor="start" font-weight="normal" stroke="#222" stroke-width="0.045" >-</text>
<text x="187.5" y="186.84" font-size="3.1" fill="#c20f3e" text-anchor="start" font-weight="normal" stroke="#c20f3e" stroke-width="0.045" >1998-2003</text>
<text x="214.6" y="186.84" font-size="3.1" fill="#222" text-anchor="start" font-weight="normal" stroke="#222" stroke-width="0.045" >&lt;0.0001</text>
<text x="240.95" y="186.84" font-size="3.1" fill="#222" text-anchor="start" font-weight="normal" stroke="#222" stroke-width="0.045" >-</text>
<text x="187.5" y="192.21" font-size="3.1" fill="#55aa36" text-anchor="start" font-weight="normal" stroke="#55aa36" stroke-width="0.045" >2004-2008</text>
<text x="214.6" y="192.21" font-size="3.1" fill="#222" text-anchor="start" font-weight="normal" stroke="#222" stroke-width="0.045" >&lt;0.0001</text>
<text x="240.95" y="192.21" font-size="3.1" fill="#222" text-anchor="start" font-weight="normal" stroke="#222" stroke-width="0.045" >0.61</text>
<text x="267.35" y="192.21" font-size="3.1" fill="#222" text-anchor="start" font-weight="normal" stroke="#222" stroke-width="0.045" >-</text>
<text x="187.5" y="197.58" font-size="3.1" fill="#f39c1e" text-anchor="start" font-weight="normal" stroke="#f39c1e" stroke-width="0.045" >2009-2013</text>
<text x="214.6" y="197.58" font-size="3.1" fill="#222" text-anchor="start" font-weight="normal" stroke="#222" stroke-width="0.045" >&lt;0.0001</text>
<text x="240.95" y="197.58" font-size="3.1" fill="#222" text-anchor="start" font-weight="normal" stroke="#222" stroke-width="0.045" >0.49</text>
<text x="267.35" y="197.58" font-size="3.1" fill="#222" text-anchor="start" font-weight="normal" stroke="#222" stroke-width="0.045" >0.85</text>
<text x="293.8" y="197.58" font-size="3.1" fill="#222" text-anchor="start" font-weight="normal" stroke="#222" stroke-width="0.045" >-</text>
<text x="187.5" y="202.95" font-size="3.1" fill="#45166e" text-anchor="start" font-weight="normal" stroke="#45166e" stroke-width="0.045" >2014 or Later</text>
<text x="214.6" y="202.95" font-size="3.1" fill="#222" text-anchor="start" font-weight="normal" stroke="#222" stroke-width="0.045" >0.01</text>
<text x="240.95" y="202.95" font-size="3.1" fill="#222" text-anchor="start" font-weight="normal" stroke="#222" stroke-width="0.045" >0.77</text>
<text x="267.35" y="202.95" font-size="3.1" fill="#222" text-anchor="start" font-weight="normal" stroke="#222" stroke-width="0.045" >0.35</text>
<text x="293.8" y="202.95" font-size="3.1" fill="#222" text-anchor="start" font-weight="normal" stroke="#222" stroke-width="0.045" >0.76</text>
<text x="320.2" y="202.95" font-size="3.1" fill="#222" text-anchor="start" font-weight="normal" stroke="#222" stroke-width="0.045" >-</text>
<text x="343.7" y="16.4" font-size="11.6" fill="#000" text-anchor="start" font-weight="bold" stroke="#000" stroke-width="0.35" >C</text>
<text x="434.1" y="25.5" font-size="6.1" fill="#111" text-anchor="middle" font-weight="normal" stroke="#111" stroke-width="0.14" >Progression-Free Survival by Year of 1st Transplant</text>
<text x="434.1" y="33.05" font-size="6.1" fill="#111" text-anchor="middle" font-weight="normal" stroke="#111" stroke-width="0.14" >Entire HDTX Study</text>
<text x="434.1" y="40.6" font-size="6.1" fill="#111" text-anchor="middle" font-weight="normal" stroke="#111" stroke-width="0.14" >Population</text>
<path d="M363.7,48.2 L364.8,53.51 L366.24,56.79 L367.69,60.15 L368.93,62.86 L370.16,65.62 L371.4,67.69 L372.59,69.89 L373.79,72.66 L374.98,74.97 L376.17,77.09 L377.35,78.14 L378.53,78.86 L379.71,79.49 L380.89,80.91 L382.07,81.89 L383.26,82.32 L384.44,83.27 L385.62,84.68 L386.64,85.59 L387.67,86.43 L388.7,87.01 L389.72,87.03 L390.75,88.03 L391.78,88.29 L392.81,88.39 L393.85,88.69 L394.88,89.35 L395.89,89.52 L396.91,89.83 L397.92,90.32 L398.94,90.59 L399.95,90.42 L400.97,90.74 L401.98,90.94 L403,91.29 L404.02,91.48 L405.03,91.74 L406.05,91.85 L407.06,92.52 L408.08,92.56 L409.09,92.8 L410.11,92.88 L411.12,92.88 L412.14,92.93 L413.15,93.06 L414.17,93.14 L415.18,93.18 L416.2,93.23 L417.21,93.23 L418.23,93.33 L419.24,93.34 L420.26,93.45 L421.27,93.48 L422.29,93.58 L423.31,93.6 L424.45,93.7 L425.6,93.86 L426.74,93.91 L427.89,94.02 L429.04,94.26 L430.18,94.4 L431.24,94.58 L432.3,94.5 L433.36,94.6 L434.41,94.79 L435.47,94.89 L436.53,94.9 L437.59,95.13 L438.65,95.23 L439.71,95.24 L440.76,95.34 L441.82,95.44 L442.88,95.51 L443.94,95.67 L444.95,95.71 L445.96,95.75 L446.98,95.8 L447.99,95.84 L449.01,95.86 L450.02,95.89 L451.03,95.91 L452.05,95.95 L453.06,96 L454.07,96.04 L455.09,96.06 L456.1,96.12 L457.11,96.12 L458.13,96.17 L459.14,96.2 L460.15,96.26 L461.17,96.29 L462.18,96.31 L463.19,96.36 L464.34,96.64 L465.49,97.8 L466.59,97.93 L467.69,98.12 L468.79,98.16 L469.89,98.45 L470.99,98.49 L472.02,98.5 L473.05,98.52 L474.08,98.51 L475.12,98.53 L476.15,98.54 L477.18,98.54 L478.21,98.55 L479.24,98.58 L480.27,98.58 L481.31,98.6 L482.34,98.59 L483.37,98.61 L484.4,98.61 L485.43,98.63 L486.46,98.63 L487.5,98.64" fill="none" stroke="#4563a8" stroke-width="1.0" stroke-linejoin="round" stroke-linecap="round"/>
<path d="M363.7,48.2 L364.92,50.44 L366.15,52.11 L367.37,53.51 L368.71,55.21 L370.06,56.52 L371.4,58.29 L372.59,60.29 L373.79,61.98 L374.98,63.52 L376.17,64.93 L377.35,65.85 L378.53,67.6 L379.71,68.2 L380.89,69.6 L382.07,70.4 L383.26,71.86 L384.44,72.43 L385.62,73.42 L386.79,74.16 L387.95,74.89 L389.12,75.02 L390.29,76.18 L391.34,77.1 L392.38,77.69 L393.43,77.34 L394.47,78.38 L395.51,79.1 L396.56,79.5 L397.6,79.99 L398.65,79.95 L399.69,80.91 L400.74,81.52 L401.78,81.89 L402.83,81.97 L403.87,82.38 L404.91,82.44 L405.96,82.91 L407,83.67 L408.05,84.17 L409.09,84.31 L410.11,84.35 L411.12,84.45 L412.14,84.92 L413.15,84.84 L414.17,84.95 L415.18,85.17 L416.2,85.46 L417.21,85.42 L418.23,85.6 L419.24,85.93 L420.26,85.93 L421.27,86.22 L422.29,86.43 L423.31,86.43 L424.45,86.9 L425.6,87.25 L426.74,87.56 L427.89,87.75 L429.04,87.97 L430.18,88.56 L431.21,88.56 L432.25,88.65 L433.28,88.75 L434.31,88.89 L435.34,89.09 L436.37,89.22 L437.4,89.23 L438.44,89.35 L439.54,89.5 L440.64,89.62 L441.74,89.96 L442.84,90.09 L443.94,90.15 L445.01,90.18 L446.08,90.55 L447.15,90.72 L448.22,91.22 L449.29,91.3 L450.36,91.48 L451.73,92.01 L453.11,93.33" fill="none" stroke="#c20f3e" stroke-width="1.25" stroke-linejoin="round" stroke-linecap="round"/>
<path d="M363.7,48.2 L364.92,50.2 L366.15,51.66 L367.37,52.98 L368.71,54.58 L370.06,55.43 L371.4,57.23 L372.59,58.43 L373.79,59.41 L374.98,61.19 L376.17,62.01 L377.35,62.73 L378.53,63.14 L379.71,64.17 L380.89,64.93 L382.07,65.19 L383.26,65.94 L384.44,67.12 L385.62,67.69 L386.79,68.87 L387.95,68.85 L389.12,70.16 L390.29,70.5 L391.44,71.7 L392.59,71.74 L393.73,72.36 L394.88,73.42 L395.91,73.53 L396.93,73.83 L397.96,74.86 L398.99,75.35 L400.02,75.71 L401.05,75.39 L402.08,76.18 L403.25,76.89 L404.41,77.26 L405.58,77.77 L406.75,78.16 L407.92,78.57 L409.09,78.63 L410.11,78.96 L411.12,79.32 L412.14,79.49 L413.15,79.41 L414.17,80.08 L415.18,79.98 L416.2,80.27 L417.21,80.62 L418.23,80.87 L419.24,81.02 L420.26,81.37 L421.27,81.82 L422.29,82.02 L423.31,82.18 L424.42,82.79 L425.53,83.07 L426.65,83 L427.76,83.85 L428.87,84.54 L429.99,84.61 L431.1,85" fill="none" stroke="#55aa36" stroke-width="1.3" stroke-linejoin="round" stroke-linecap="round"/>
<path d="M363.7,48.2 L364.92,49.73 L366.15,51.26 L367.37,52.98 L368.71,54.27 L370.06,56.38 L371.4,57.76 L372.59,59.15 L373.79,60.46 L374.98,61.99 L376.17,63.92 L377.35,65.27 L378.53,65.87 L379.71,66.95 L380.89,68.11 L382.07,68.95 L383.26,69.34 L384.44,70.59 L385.62,71.46 L386.79,72.2 L387.95,72.41 L389.12,73.4 L390.29,74.22 L391.34,74.8 L392.38,75.21 L393.43,75.46 L394.47,76.26 L395.51,76.19 L396.56,76.49 L397.6,77.17 L398.65,77.22 L399.69,77.94 L400.88,78.06 L402.08,79 L403.25,79.16 L404.41,79.29 L405.58,79.66 L406.75,79.85 L407.92,79.72 L409.09,80.06" fill="none" stroke="#f39c1e" stroke-width="1.3" stroke-linejoin="round" stroke-linecap="round"/>
<path d="M363.7,48.2 L365.03,49 L366.36,49.78 L367.69,50.7 L368.93,51.94 L370.16,53.47 L371.4,55.42 L374.25,55.42 L375.47,56.01 L376.69,57.46 L377.91,58.29 L379.4,59.27 L380.89,61.1 L382.07,62.13 L383.26,63.2 L384.44,64.36 L385.62,64.93" fill="none" stroke="#45166e" stroke-width="1.45" stroke-linejoin="round" stroke-linecap="round"/>
<circle cx="385.62" cy="64.93" r="0.95" fill="#45166e"/>
<path d="M363.7,45.3 V101.3" stroke="#000" stroke-width="1.1" fill="none"/>
<path d="M360.6,101.3 H363.7 M361.9,95.99 H363.7 M360.6,90.68 H363.7 M361.9,85.37 H363.7 M360.6,80.06 H363.7 M361.9,74.75 H363.7 M360.6,69.44 H363.7 M361.9,64.13 H363.7 M360.6,58.82 H363.7 M361.9,53.51 H363.7 M360.6,48.2 H363.7" stroke="#000" stroke-width="0.85" fill="none"/>
<text x="357.5" y="102.8" font-size="4.2" fill="#222" text-anchor="end" font-weight="normal" stroke="#222" stroke-width="0.2" >0%</text>
<text x="357.5" y="92.18" font-size="4.2" fill="#222" text-anchor="end" font-weight="normal" stroke="#222" stroke-width="0.2" >20%</text>
<text x="357.5" y="81.56" font-size="4.2" fill="#222" text-anchor="end" font-weight="normal" stroke="#222" stroke-width="0.2" >40%</text>
<text x="357.5" y="70.94" font-size="4.2" fill="#222" text-anchor="end" font-weight="normal" stroke="#222" stroke-width="0.2" >60%</text>
<text x="357.5" y="60.32" font-size="4.2" fill="#222" text-anchor="end" font-weight="normal" stroke="#222" stroke-width="0.2" >80%</text>
<text x="357.5" y="49.7" font-size="4.2" fill="#222" text-anchor="end" font-weight="normal" stroke="#222" stroke-width="0.2" >100%</text>
<path d="M360.6,101.3 H503.75" stroke="#000" stroke-width="1.1" fill="none"/>
<path d="M363.7,101.3 V104.1 M386.62,101.3 V104.1 M409.55,101.3 V104.1 M432.48,101.3 V104.1 M455.4,101.3 V104.1 M478.32,101.3 V104.1 M501.25,101.3 V104.1" stroke="#000" stroke-width="0.85" fill="none"/>
<text x="363.7" y="111.1" font-size="4.1" fill="#222" text-anchor="middle" font-weight="normal" stroke="#222" stroke-width="0.2" >0</text>
<text x="386.62" y="111.1" font-size="4.1" fill="#222" text-anchor="middle" font-weight="normal" stroke="#222" stroke-width="0.2" >5</text>
<text x="409.55" y="111.1" font-size="4.1" fill="#222" text-anchor="middle" font-weight="normal" stroke="#222" stroke-width="0.2" >10</text>
<text x="432.48" y="111.1" font-size="4.1" fill="#222" text-anchor="middle" font-weight="normal" stroke="#222" stroke-width="0.2" >15</text>
<text x="455.4" y="111.1" font-size="4.1" fill="#222" text-anchor="middle" font-weight="normal" stroke="#222" stroke-width="0.2" >20</text>
<text x="478.32" y="111.1" font-size="4.1" fill="#222" text-anchor="middle" font-weight="normal" stroke="#222" stroke-width="0.2" >25</text>
<text x="501.25" y="111.1" font-size="4.1" fill="#222" text-anchor="middle" font-weight="normal" stroke="#222" stroke-width="0.2" >30</text>
<text x="0" y="0" font-size="6.8" font-weight="bold" fill="#1a1a1a" stroke="#1a1a1a" stroke-width="0.12" transform="translate(408.6,121.1) scale(0.6,1)">Years from first transplant</text>
<text x="425.8" y="138.2" font-size="3.25" fill="#111" text-anchor="middle" font-weight="normal" stroke="#111" stroke-width="0.04" >Deaths / N</text>
<text x="446.4" y="134.2" font-size="3.25" fill="#111" text-anchor="middle" font-weight="normal" stroke="#111" stroke-width="0.04" >Median</text>
<text x="446.4" y="138.2" font-size="3.25" fill="#111" text-anchor="middle" font-weight="normal" stroke="#111" stroke-width="0.04" >in Years</text>
<text x="468.3" y="134.2" font-size="3.25" fill="#111" text-anchor="middle" font-weight="normal" stroke="#111" stroke-width="0.04" >5-Year</text>
<text x="468.3" y="138.2" font-size="3.25" fill="#111" text-anchor="middle" font-weight="normal" stroke="#111" stroke-width="0.04" >Estimate</text>
<text x="390.3" y="142.4" font-size="3.25" fill="#4563a8" text-anchor="start" font-weight="normal" stroke="#4563a8" stroke-width="0.04" >1997 or Earlier</text>
<text x="425.8" y="142.4" font-size="3.25" fill="#4563a8" text-anchor="middle" font-weight="normal" stroke="#4563a8" stroke-width="0.04" >177 / 180</text>
<text x="446.4" y="142.4" font-size="3.25" fill="#4563a8" text-anchor="middle" font-weight="normal" stroke="#4563a8" stroke-width="0.04" >3 (3, 3)</text>
<text x="468.3" y="142.4" font-size="3.25" fill="#4563a8" text-anchor="middle" font-weight="normal" stroke="#4563a8" stroke-width="0.04" >29% (23, 36)</text>
<text x="390.3" y="146.28" font-size="3.25" fill="#c20f3e" text-anchor="start" font-weight="normal" stroke="#c20f3e" stroke-width="0.04" >1998-2003</text>
<text x="425.8" y="146.28" font-size="3.25" fill="#c20f3e" text-anchor="middle" font-weight="normal" stroke="#c20f3e" stroke-width="0.04" >376 / 496</text>
<text x="446.4" y="146.28" font-size="3.25" fill="#c20f3e" text-anchor="middle" font-weight="normal" stroke="#c20f3e" stroke-width="0.04" >5 (4, 6)</text>
<text x="468.3" y="146.28" font-size="3.25" fill="#c20f3e" text-anchor="middle" font-weight="normal" stroke="#c20f3e" stroke-width="0.04" >50% (46, 55)</text>
<text x="390.3" y="150.16" font-size="3.25" fill="#55aa36" text-anchor="start" font-weight="normal" stroke="#55aa36" stroke-width="0.04" >2004-2008</text>
<text x="425.8" y="150.16" font-size="3.25" fill="#55aa36" text-anchor="middle" font-weight="normal" stroke="#55aa36" stroke-width="0.04" >335 / 540</text>
<text x="446.4" y="150.16" font-size="3.25" fill="#55aa36" text-anchor="middle" font-weight="normal" stroke="#55aa36" stroke-width="0.04" >7 (6, 8)</text>
<text x="468.3" y="150.16" font-size="3.25" fill="#55aa36" text-anchor="middle" font-weight="normal" stroke="#55aa36" stroke-width="0.04" >61% (57, 65)</text>
<text x="390.3" y="154.04" font-size="3.25" fill="#f39c1e" text-anchor="start" font-weight="normal" stroke="#f39c1e" stroke-width="0.04" >2009-2013</text>
<text x="425.8" y="154.04" font-size="3.25" fill="#f39c1e" text-anchor="middle" font-weight="normal" stroke="#f39c1e" stroke-width="0.04" >251 / 450</text>
<text x="446.4" y="154.04" font-size="3.25" fill="#f39c1e" text-anchor="middle" font-weight="normal" stroke="#f39c1e" stroke-width="0.04" >6 (5, 6)</text>
<text x="468.3" y="154.04" font-size="3.25" fill="#f39c1e" text-anchor="middle" font-weight="normal" stroke="#f39c1e" stroke-width="0.04" >54% (49, 58)</text>
<text x="390.3" y="157.92" font-size="3.25" fill="#45166e" text-anchor="start" font-weight="normal" stroke="#45166e" stroke-width="0.04" >2014 or Later</text>
<text x="425.8" y="157.92" font-size="3.25" fill="#45166e" text-anchor="middle" font-weight="normal" stroke="#45166e" stroke-width="0.04" >25 / 110</text>
<text x="446.4" y="157.92" font-size="3.25" fill="#45166e" text-anchor="middle" font-weight="normal" stroke="#45166e" stroke-width="0.04" >NR</text>
<text x="468.3" y="157.92" font-size="3.25" fill="#45166e" text-anchor="middle" font-weight="normal" stroke="#45166e" stroke-width="0.04" >68% (55, 80)</text>
<text x="433.7" y="163" font-size="3.05" fill="#111" text-anchor="middle" font-weight="normal" stroke="#111" stroke-width="0.04" >Log-rank p-value &lt; .0001</text>
<path d="M354.9,172.3 V204.52 M381.3,172.3 V204.52 M407.65,172.3 V204.52 M434.05,172.3 V204.52 M460.5,172.3 V204.52 M486.9,172.3 V204.52 M513.3,172.3 V204.52 M354.9,172.3 H513.3 M354.9,177.67 H513.3 M354.9,183.04 H513.3 M354.9,188.41 H513.3 M354.9,193.78 H513.3 M354.9,199.15 H513.3 M354.9,204.52 H513.3" stroke="#444" stroke-width="1.0" fill="none" stroke-linecap="square"/>
<text x="357.2" y="176.1" font-size="3.1" fill="#111" text-anchor="start" font-weight="normal" stroke="#111" stroke-width="0.045" >Pairwise p-value</text>
<text x="394.48" y="176.1" font-size="3.1" fill="#4563a8" text-anchor="middle" font-weight="normal" stroke="#4563a8" stroke-width="0.045" >1997 or Earlier</text>
<text x="420.85" y="176.1" font-size="3.1" fill="#c20f3e" text-anchor="middle" font-weight="normal" stroke="#c20f3e" stroke-width="0.045" >1998-2003</text>
<text x="447.27" y="176.1" font-size="3.1" fill="#55aa36" text-anchor="middle" font-weight="normal" stroke="#55aa36" stroke-width="0.045" >2004-2008</text>
<text x="473.7" y="176.1" font-size="3.1" fill="#f39c1e" text-anchor="middle" font-weight="normal" stroke="#f39c1e" stroke-width="0.045" >2009-2013</text>
<text x="500.1" y="176.1" font-size="3.1" fill="#45166e" text-anchor="middle" font-weight="normal" stroke="#45166e" stroke-width="0.045" >2014 or Later</text>
<text x="357.2" y="181.47" font-size="3.1" fill="#4563a8" text-anchor="start" font-weight="normal" stroke="#4563a8" stroke-width="0.045" >1997 or Earlier</text>
<text x="384.3" y="181.47" font-size="3.1" fill="#222" text-anchor="start" font-weight="normal" stroke="#222" stroke-width="0.045" >-</text>
<text x="357.2" y="186.84" font-size="3.1" fill="#c20f3e" text-anchor="start" font-weight="normal" stroke="#c20f3e" stroke-width="0.045" >1998-2003</text>
<text x="384.3" y="186.84" font-size="3.1" fill="#222" text-anchor="start" font-weight="normal" stroke="#222" stroke-width="0.045" >0.01</text>
<text x="410.65" y="186.84" font-size="3.1" fill="#222" text-anchor="start" font-weight="normal" stroke="#222" stroke-width="0.045" >-</text>
<text x="357.2" y="192.21" font-size="3.1" fill="#55aa36" text-anchor="start" font-weight="normal" stroke="#55aa36" stroke-width="0.045" >2004-2008</text>
<text x="384.3" y="192.21" font-size="3.1" fill="#222" text-anchor="start" font-weight="normal" stroke="#222" stroke-width="0.045" >0.10</text>
<text x="410.65" y="192.21" font-size="3.1" fill="#222" text-anchor="start" font-weight="normal" stroke="#222" stroke-width="0.045" >&lt;0.0001</text>
<text x="437.05" y="192.21" font-size="3.1" fill="#222" text-anchor="start" font-weight="normal" stroke="#222" stroke-width="0.045" >-</text>
<text x="357.2" y="197.58" font-size="3.1" fill="#f39c1e" text-anchor="start" font-weight="normal" stroke="#f39c1e" stroke-width="0.045" >2009-2013</text>
<text x="384.3" y="197.58" font-size="3.1" fill="#222" text-anchor="start" font-weight="normal" stroke="#222" stroke-width="0.045" >0.10</text>
<text x="410.65" y="197.58" font-size="3.1" fill="#222" text-anchor="start" font-weight="normal" stroke="#222" stroke-width="0.045" >0.99</text>
<text x="437.05" y="197.58" font-size="3.1" fill="#222" text-anchor="start" font-weight="normal" stroke="#222" stroke-width="0.045" >&lt;0.0001</text>
<text x="463.5" y="197.58" font-size="3.1" fill="#222" text-anchor="start" font-weight="normal" stroke="#222" stroke-width="0.045" >-</text>
<text x="357.2" y="202.95" font-size="3.1" fill="#45166e" text-anchor="start" font-weight="normal" stroke="#45166e" stroke-width="0.045" >2014 or Later</text>
<text x="384.3" y="202.95" font-size="3.1" fill="#222" text-anchor="start" font-weight="normal" stroke="#222" stroke-width="0.045" >&lt;0.0001</text>
<text x="410.65" y="202.95" font-size="3.1" fill="#222" text-anchor="start" font-weight="normal" stroke="#222" stroke-width="0.045" >&lt;0.0001</text>
<text x="437.05" y="202.95" font-size="3.1" fill="#222" text-anchor="start" font-weight="normal" stroke="#222" stroke-width="0.045" >&lt;0.0001</text>
<text x="463.5" y="202.95" font-size="3.1" fill="#222" text-anchor="start" font-weight="normal" stroke="#222" stroke-width="0.045" >&lt;0.0001</text>
<text x="489.9" y="202.95" font-size="3.1" fill="#222" text-anchor="start" font-weight="normal" stroke="#222" stroke-width="0.045" >-</text>
<text x="6.9" y="229.2" font-size="11.6" fill="#000" text-anchor="start" font-weight="bold" stroke="#000" stroke-width="0.35" >D</text>
<text x="94.8" y="238.4" font-size="6.1" fill="#111" text-anchor="middle" font-weight="normal" stroke="#111" stroke-width="0.14" >Progression-Free Survival by Year of 1st Transplant</text>
<text x="94.8" y="245.95" font-size="6.1" fill="#111" text-anchor="middle" font-weight="normal" stroke="#111" stroke-width="0.14" >HDTX Study Population, restricted to</text>
<text x="94.8" y="253.5" font-size="6.1" fill="#111" text-anchor="middle" font-weight="normal" stroke="#111" stroke-width="0.14" >those w/ survival &gt; 3 yrs</text>
<path d="M24.4,261.5 H38.16" stroke="#6a4a90" stroke-width="0.8" fill="none"/>
<path d="M38.16,261.2 L39.3,263.36 L40.45,265.45 L42.14,269.32 L43.11,273.09 L44.36,273.67 L45.61,275.42 L46.87,275.91 L48.7,281.59 L49.9,282.26 L51.11,282.14 L52.31,282.88 L53.51,283.5 L54.91,285.26 L56.31,286.32 L57.48,287.51 L58.65,288.05 L59.82,289.52 L60.99,290.51 L62.15,291.68 L63.31,291.57 L64.47,293.02 L65.63,293.24 L66.8,293.98 L67.96,294.81 L69.26,295.01 L70.57,295.18 L71.66,295.19 L72.76,295.51 L73.85,295.53 L74.94,295.78 L76.03,295.69 L77.13,295.93 L78.5,296.96 L79.88,297.31 L80.91,297.39 L81.94,297.42 L82.97,297.5 L84,297.73 L85.04,297.67 L86.07,297.76 L87.1,297.95 L88.13,298 L89.37,298.29 L90.61,299.32 L91.85,299.92 L93.08,300.12 L94.13,300.28 L95.17,300.35 L96.21,300.34 L97.26,300.5 L98.3,300.49 L99.34,300.6 L100.38,300.83 L101.43,300.87 L102.65,301.4 L103.87,302.2 L105.1,302.3 L124.35,302.3 L125.27,306.34 L126.42,306.92 L127.56,307.66 L148.19,307.66" fill="none" stroke="#4563a8" stroke-width="1.0" stroke-linejoin="round" stroke-linecap="round"/>
<path d="M38.16,261.2 L39.23,263.44 L40.31,265.45 L41.4,266.98 L42.5,268.32 L43.59,268.88 L44.68,270.47 L45.77,271.64 L46.87,273.09 L47.91,274.11 L48.96,275.34 L50.01,276.08 L51.06,277.3 L52.11,278.17 L53.15,279.36 L54.2,280.58 L55.35,281.06 L56.49,282.25 L57.64,283.33 L58.79,284.14 L59.93,284.39 L61.08,285.41 L62.23,286.05 L63.37,286.08 L64.52,286.49 L65.66,287.3 L66.81,287.15 L67.96,287.75 L69.26,288.22 L70.57,288.28 L71.66,288.36 L72.76,288.7 L73.85,289.42 L74.94,289.41 L76.03,289.72 L77.13,290.19 L78.16,290.77 L79.18,290.71 L80.21,291.4 L81.24,291.19 L82.27,291.66 L83.3,291.78 L84.33,292.42 L85.46,293.16 L86.59,293.35 L87.73,293.51 L88.86,293.92 L89.99,294.64 L91.12,294.49 L92.26,295.18 L93.36,295.25 L94.46,295.69 L95.56,295.97 L96.66,295.96 L97.76,296.25 L98.77,296.37 L99.78,296.42 L100.79,296.57 L101.79,296.7 L102.8,296.78 L103.83,297.08 L104.86,297.2 L105.89,297.25 L106.92,297.31 L107.95,297.56 L108.97,297.61 L110,297.84 L111.74,300.71 L112.78,301.62 L113.81,302.62" fill="none" stroke="#c20f3e" stroke-width="1.25" stroke-linejoin="round" stroke-linecap="round"/>
<path d="M38.16,261.2 L39.19,262.39 L40.22,264.31 L41.25,265.4 L42.28,266.51 L43.43,267.73 L44.57,268.2 L45.72,269.21 L46.87,270.33 L47.91,270.82 L48.96,272.46 L50.01,273 L51.06,274.24 L52.11,274.93 L53.15,275.52 L54.2,276.39 L55.35,277.54 L56.49,278.07 L57.64,278.34 L58.79,279.14 L59.93,280.15 L61.08,280.58 L62.23,280.91 L63.37,281.14 L64.52,282.15 L65.66,281.94 L66.81,282.42 L67.96,282.97 L69.06,283.32 L70.16,283.5 L71.41,284.36 L72.66,284.14 L73.91,285.25 L75.16,285.63 L76.17,286.15 L77.19,286.42 L78.21,286.25 L79.23,286.67 L80.25,286.83 L81.27,287.15 L82.29,287.55 L83.31,287.56 L84.33,288.12 L85.46,288.75 L86.59,289.09 L87.73,289.33 L88.86,290.04 L89.99,290.32 L91.12,291.1 L92.26,291.68" fill="none" stroke="#55aa36" stroke-width="1.3" stroke-linejoin="round" stroke-linecap="round"/>
<path d="M38.16,261.2 L39.19,263.1 L40.22,263.93 L41.25,265.92 L42.28,267.04 L43.43,268.14 L44.57,269 L45.72,269.95 L46.87,271.29 L47.91,272.27 L48.96,273.16 L50.01,274.55 L51.06,275.09 L52.11,276.08 L53.15,276.55 L54.2,277.82 L55.35,278.24 L56.49,278.52 L57.64,279.26 L58.79,279.95 L59.93,279.81 L61.08,280.58 L62.23,280.68 L63.37,281.14 L64.52,281.52 L65.66,281.57 L66.81,281.82 L67.96,282.07" fill="none" stroke="#f39c1e" stroke-width="1.3" stroke-linejoin="round" stroke-linecap="round"/>
<path d="M38.16,261.2 L39.3,263.15 L40.45,264.92 L41.62,265.73 L42.8,266.27 L43.97,267.77 L45.14,268.58 L46.32,269.16" fill="none" stroke="#45166e" stroke-width="1.45" stroke-linejoin="round" stroke-linecap="round"/>
<circle cx="46.32" cy="269.16" r="0.95" fill="#45166e"/>
<path d="M24.4,258.1 V314.3" stroke="#000" stroke-width="1.1" fill="none"/>
<path d="M21.3,314.3 H24.4 M22.6,308.99 H24.4 M21.3,303.68 H24.4 M22.6,298.37 H24.4 M21.3,293.06 H24.4 M22.6,287.75 H24.4 M21.3,282.44 H24.4 M22.6,277.13 H24.4 M21.3,271.82 H24.4 M22.6,266.51 H24.4 M21.3,261.2 H24.4" stroke="#000" stroke-width="0.85" fill="none"/>
<text x="18.2" y="315.8" font-size="4.2" fill="#222" text-anchor="end" font-weight="normal" stroke="#222" stroke-width="0.2" >0%</text>
<text x="18.2" y="305.18" font-size="4.2" fill="#222" text-anchor="end" font-weight="normal" stroke="#222" stroke-width="0.2" >20%</text>
<text x="18.2" y="294.56" font-size="4.2" fill="#222" text-anchor="end" font-weight="normal" stroke="#222" stroke-width="0.2" >40%</text>
<text x="18.2" y="283.94" font-size="4.2" fill="#222" text-anchor="end" font-weight="normal" stroke="#222" stroke-width="0.2" >60%</text>
<text x="18.2" y="273.32" font-size="4.2" fill="#222" text-anchor="end" font-weight="normal" stroke="#222" stroke-width="0.2" >80%</text>
<text x="18.2" y="262.7" font-size="4.2" fill="#222" text-anchor="end" font-weight="normal" stroke="#222" stroke-width="0.2" >100%</text>
<path d="M21.3,314.3 H164.45" stroke="#000" stroke-width="1.1" fill="none"/>
<path d="M24.4,314.3 V317.1 M47.33,314.3 V317.1 M70.25,314.3 V317.1 M93.18,314.3 V317.1 M116.1,314.3 V317.1 M139.03,314.3 V317.1 M161.95,314.3 V317.1" stroke="#000" stroke-width="0.85" fill="none"/>
<text x="24.4" y="323.9" font-size="4.1" fill="#222" text-anchor="middle" font-weight="normal" stroke="#222" stroke-width="0.2" >0</text>
<text x="47.33" y="323.9" font-size="4.1" fill="#222" text-anchor="middle" font-weight="normal" stroke="#222" stroke-width="0.2" >5</text>
<text x="70.25" y="323.9" font-size="4.1" fill="#222" text-anchor="middle" font-weight="normal" stroke="#222" stroke-width="0.2" >10</text>
<text x="93.18" y="323.9" font-size="4.1" fill="#222" text-anchor="middle" font-weight="normal" stroke="#222" stroke-width="0.2" >15</text>
<text x="116.1" y="323.9" font-size="4.1" fill="#222" text-anchor="middle" font-weight="normal" stroke="#222" stroke-width="0.2" >20</text>
<text x="139.03" y="323.9" font-size="4.1" fill="#222" text-anchor="middle" font-weight="normal" stroke="#222" stroke-width="0.2" >25</text>
<text x="161.95" y="323.9" font-size="4.1" fill="#222" text-anchor="middle" font-weight="normal" stroke="#222" stroke-width="0.2" >30</text>
<text x="0" y="0" font-size="6.8" font-weight="bold" fill="#1a1a1a" stroke="#1a1a1a" stroke-width="0.12" transform="translate(69.3,334.1) scale(0.6,1)">Years from first transplant</text>
<text x="84.5" y="351" font-size="3.25" fill="#111" text-anchor="middle" font-weight="normal" stroke="#111" stroke-width="0.04" >Deaths / N</text>
<text x="105.7" y="347" font-size="3.25" fill="#111" text-anchor="middle" font-weight="normal" stroke="#111" stroke-width="0.04" >Median</text>
<text x="105.7" y="351" font-size="3.25" fill="#111" text-anchor="middle" font-weight="normal" stroke="#111" stroke-width="0.04" >in Years</text>
<text x="129" y="347" font-size="3.25" fill="#111" text-anchor="middle" font-weight="normal" stroke="#111" stroke-width="0.04" >5-Year</text>
<text x="129" y="351" font-size="3.25" fill="#111" text-anchor="middle" font-weight="normal" stroke="#111" stroke-width="0.04" >Estimate</text>
<text x="51" y="355.2" font-size="3.25" fill="#4563a8" text-anchor="start" font-weight="normal" stroke="#4563a8" stroke-width="0.04" >1997 or Earlier</text>
<text x="84.5" y="355.2" font-size="3.25" fill="#4563a8" text-anchor="middle" font-weight="normal" stroke="#4563a8" stroke-width="0.04" >67 / 92</text>
<text x="105.7" y="355.2" font-size="3.25" fill="#4563a8" text-anchor="middle" font-weight="normal" stroke="#4563a8" stroke-width="0.04" >8 (6, 9)</text>
<text x="129" y="355.2" font-size="3.25" fill="#4563a8" text-anchor="middle" font-weight="normal" stroke="#4563a8" stroke-width="0.04" >68% (58, 76)</text>
<text x="51" y="359.08" font-size="3.25" fill="#c20f3e" text-anchor="start" font-weight="normal" stroke="#c20f3e" stroke-width="0.04" >1998-2003</text>
<text x="84.5" y="359.08" font-size="3.25" fill="#c20f3e" text-anchor="middle" font-weight="normal" stroke="#c20f3e" stroke-width="0.04" >209 / 329</text>
<text x="105.7" y="359.08" font-size="3.25" fill="#c20f3e" text-anchor="middle" font-weight="normal" stroke="#c20f3e" stroke-width="0.04" >9 (8, 11)</text>
<text x="129" y="359.08" font-size="3.25" fill="#c20f3e" text-anchor="middle" font-weight="normal" stroke="#c20f3e" stroke-width="0.04" >76% (71, 81)</text>
<text x="51" y="362.96" font-size="3.25" fill="#55aa36" text-anchor="start" font-weight="normal" stroke="#55aa36" stroke-width="0.04" >2004-2008</text>
<text x="84.5" y="362.96" font-size="3.25" fill="#55aa36" text-anchor="middle" font-weight="normal" stroke="#55aa36" stroke-width="0.04" >190 / 404</text>
<text x="105.7" y="362.96" font-size="3.25" fill="#55aa36" text-anchor="middle" font-weight="normal" stroke="#55aa36" stroke-width="0.04" >12 (10, 14)</text>
<text x="129" y="362.96" font-size="3.25" fill="#55aa36" text-anchor="middle" font-weight="normal" stroke="#55aa36" stroke-width="0.04" >83% (80, 87)</text>
<text x="51" y="366.84" font-size="3.25" fill="#f39c1e" text-anchor="start" font-weight="normal" stroke="#f39c1e" stroke-width="0.04" >2009-2013</text>
<text x="84.5" y="366.84" font-size="3.25" fill="#f39c1e" text-anchor="middle" font-weight="normal" stroke="#f39c1e" stroke-width="0.04" >102 / 301</text>
<text x="105.7" y="366.84" font-size="3.25" fill="#f39c1e" text-anchor="middle" font-weight="normal" stroke="#f39c1e" stroke-width="0.04" >NR</text>
<text x="129" y="366.84" font-size="3.25" fill="#f39c1e" text-anchor="middle" font-weight="normal" stroke="#f39c1e" stroke-width="0.04" >80% (75, 84)</text>
<text x="51" y="370.72" font-size="3.25" fill="#45166e" text-anchor="start" font-weight="normal" stroke="#45166e" stroke-width="0.04" >2014 or Later</text>
<text x="84.5" y="370.72" font-size="3.25" fill="#45166e" text-anchor="middle" font-weight="normal" stroke="#45166e" stroke-width="0.04" >5 / 52</text>
<text x="105.7" y="370.72" font-size="3.25" fill="#45166e" text-anchor="middle" font-weight="normal" stroke="#45166e" stroke-width="0.04" >NR</text>
<text x="129" y="370.72" font-size="3.25" fill="#45166e" text-anchor="middle" font-weight="normal" stroke="#45166e" stroke-width="0.04" >84% (71, 96)</text>
<text x="94.4" y="374.9" font-size="3.05" fill="#111" text-anchor="middle" font-weight="normal" stroke="#111" stroke-width="0.04" >Log-rank p-value = .03</text>
<path d="M15.6,384.5 V416.72 M42,384.5 V416.72 M68.35,384.5 V416.72 M94.75,384.5 V416.72 M121.2,384.5 V416.72 M147.6,384.5 V416.72 M174,384.5 V416.72 M15.6,384.5 H174 M15.6,389.87 H174 M15.6,395.24 H174 M15.6,400.61 H174 M15.6,405.98 H174 M15.6,411.35 H174 M15.6,416.72 H174" stroke="#444" stroke-width="1.0" fill="none" stroke-linecap="square"/>
<text x="17.9" y="388.3" font-size="3.1" fill="#111" text-anchor="start" font-weight="normal" stroke="#111" stroke-width="0.045" >Pairwise p-value</text>
<text x="55.17" y="388.3" font-size="3.1" fill="#4563a8" text-anchor="middle" font-weight="normal" stroke="#4563a8" stroke-width="0.045" >1997 or Earlier</text>
<text x="81.55" y="388.3" font-size="3.1" fill="#c20f3e" text-anchor="middle" font-weight="normal" stroke="#c20f3e" stroke-width="0.045" >1998-2003</text>
<text x="107.97" y="388.3" font-size="3.1" fill="#55aa36" text-anchor="middle" font-weight="normal" stroke="#55aa36" stroke-width="0.045" >2004-2008</text>
<text x="134.4" y="388.3" font-size="3.1" fill="#f39c1e" text-anchor="middle" font-weight="normal" stroke="#f39c1e" stroke-width="0.045" >2009-2013</text>
<text x="160.8" y="388.3" font-size="3.1" fill="#45166e" text-anchor="middle" font-weight="normal" stroke="#45166e" stroke-width="0.045" >2014 or Later</text>
<text x="17.9" y="393.67" font-size="3.1" fill="#4563a8" text-anchor="start" font-weight="normal" stroke="#4563a8" stroke-width="0.045" >1997 or Earlier</text>
<text x="45" y="393.67" font-size="3.1" fill="#222" text-anchor="start" font-weight="normal" stroke="#222" stroke-width="0.045" >-</text>
<text x="17.9" y="399.04" font-size="3.1" fill="#c20f3e" text-anchor="start" font-weight="normal" stroke="#c20f3e" stroke-width="0.045" >1998-2003</text>
<text x="45" y="399.04" font-size="3.1" fill="#222" text-anchor="start" font-weight="normal" stroke="#222" stroke-width="0.045" >0.14</text>
<text x="71.35" y="399.04" font-size="3.1" fill="#222" text-anchor="start" font-weight="normal" stroke="#222" stroke-width="0.045" >-</text>
<text x="17.9" y="404.41" font-size="3.1" fill="#55aa36" text-anchor="start" font-weight="normal" stroke="#55aa36" stroke-width="0.045" >2004-2008</text>
<text x="45" y="404.41" font-size="3.1" fill="#222" text-anchor="start" font-weight="normal" stroke="#222" stroke-width="0.045" >0.003</text>
<text x="71.35" y="404.41" font-size="3.1" fill="#222" text-anchor="start" font-weight="normal" stroke="#222" stroke-width="0.045" >0.03</text>
<text x="97.75" y="404.41" font-size="3.1" fill="#222" text-anchor="start" font-weight="normal" stroke="#222" stroke-width="0.045" >-</text>
<text x="17.9" y="409.78" font-size="3.1" fill="#f39c1e" text-anchor="start" font-weight="normal" stroke="#f39c1e" stroke-width="0.045" >2009-2013</text>
<text x="45" y="409.78" font-size="3.1" fill="#222" text-anchor="start" font-weight="normal" stroke="#222" stroke-width="0.045" >0.005</text>
<text x="71.35" y="409.78" font-size="3.1" fill="#222" text-anchor="start" font-weight="normal" stroke="#222" stroke-width="0.045" >0.15</text>
<text x="97.75" y="409.78" font-size="3.1" fill="#222" text-anchor="start" font-weight="normal" stroke="#222" stroke-width="0.045" >0.88</text>
<text x="124.2" y="409.78" font-size="3.1" fill="#222" text-anchor="start" font-weight="normal" stroke="#222" stroke-width="0.045" >-</text>
<text x="17.9" y="415.15" font-size="3.1" fill="#45166e" text-anchor="start" font-weight="normal" stroke="#45166e" stroke-width="0.045" >2014 or Later</text>
<text x="45" y="415.15" font-size="3.1" fill="#222" text-anchor="start" font-weight="normal" stroke="#222" stroke-width="0.045" >0.14</text>
<text x="71.35" y="415.15" font-size="3.1" fill="#222" text-anchor="start" font-weight="normal" stroke="#222" stroke-width="0.045" >0.39</text>
<text x="97.75" y="415.15" font-size="3.1" fill="#222" text-anchor="start" font-weight="normal" stroke="#222" stroke-width="0.045" >0.63</text>
<text x="124.2" y="415.15" font-size="3.1" fill="#222" text-anchor="start" font-weight="normal" stroke="#222" stroke-width="0.045" >0.56</text>
<text x="150.6" y="415.15" font-size="3.1" fill="#222" text-anchor="start" font-weight="normal" stroke="#222" stroke-width="0.045" >-</text>
<text x="176.5" y="229.2" font-size="11.6" fill="#000" text-anchor="start" font-weight="bold" stroke="#000" stroke-width="0.35" >E</text>
<text x="264.4" y="238.4" font-size="6.1" fill="#111" text-anchor="middle" font-weight="normal" stroke="#111" stroke-width="0.14" >Overall Survival by Year of 1st Transplant</text>
<text x="264.4" y="245.95" font-size="6.1" fill="#111" text-anchor="middle" font-weight="normal" stroke="#111" stroke-width="0.14" >Older HDTX Study Population</text>
<text x="264.4" y="253.5" font-size="6.1" fill="#111" text-anchor="middle" font-weight="normal" stroke="#111" stroke-width="0.14" >(65yo or older)</text>
<path d="M297.74,313.13 H325.9" stroke="#bccbe3" stroke-width="2.2" fill="none"/>
<path d="M194,261.2 L195.83,264.21 L197.66,267.44 L199.5,270.23 L201.18,271.52 L202.86,273.31 L204.55,274.51 L206.23,275.91 L208.11,277.02 L209.98,279.42 L211.86,280.58 L213.42,282.37 L214.98,283.63 L216.53,285.41 L217.5,288.17 L219.37,289.51 L221.25,290.38 L223.13,290.99 L226.01,291.89 L227.66,293.84 L229.31,296.41 L230.98,297.22 L232.66,299.13 L234.33,300.23 L235.96,300.87 L237.6,300.64 L239.23,301.54 L240.87,301.72 L242.5,302.19 L244.16,302.34 L245.83,302.52 L247.49,302.61 L249.15,302.78 L250.81,303.15 L252.45,303.29 L254.09,303.46 L255.72,303.71 L257.36,304.02 L258.99,304.32 L259.95,305.11 L261.65,306.35 L263.34,307.71 L265.04,308.62 L267.1,308.62 L268.97,309.46 L270.85,309.45 L272.73,310.48 L296.36,310.48 L297.74,312.18 L325.9,312.18" fill="none" stroke="#4563a8" stroke-width="1.0" stroke-linejoin="round" stroke-linecap="round"/>
<path d="M194,261.2 L195.55,263.44 L197.09,265.18 L198.64,267.5 L200.18,269.16 L201.69,270.19 L203.21,272.08 L204.72,273.1 L206.23,274.48 L207.79,275.25 L209.34,276.94 L210.9,277.59 L212.46,279 L214.01,280.36 L215.57,281.59 L217.08,282.54 L218.59,283.65 L220.11,284.94 L221.62,285.41 L223.13,286.95 L226.01,289.4 L228.14,290.95 L230.27,292.32 L231.94,292.33 L233.61,292.73 L235.27,293.57 L236.94,293.59 L238.79,294.76 L240.65,295.49 L242.5,296.41 L244.16,296.56 L245.83,297.5 L247.49,297.55 L249.15,298.17 L250.81,298.48 L252.34,298.72 L253.86,299.1 L255.38,299.77 L256.91,300.82 L258.43,300.79 L259.95,301.56 L261.5,302.01 L263.04,302.07 L264.59,302.78 L266.13,303.15 L267.74,303.17 L269.35,303.26 L270.96,303.4 L272.57,303.5 L274.17,303.68 L285.37,303.68 L287.17,304.08 L288.98,305 L290.78,306.1 L292.58,306.49 L316.29,306.49 L319.03,310.74 L325.9,310.74 L326.25,314.03" fill="none" stroke="#c20f3e" stroke-width="1.25" stroke-linejoin="round" stroke-linecap="round"/>
<path d="M194,261.2 L195.66,262.65 L197.32,265.43 L198.98,266.69 L200.64,268.83 L202.3,270.29 L203.96,272.62 L205.48,273.9 L207,274.61 L208.53,276.54 L210.05,276.94 L211.57,278.69 L213.09,280.11 L214.61,281.01 L216.38,282.04 L218.15,282.66 L219.92,284.12 L221.69,284.56 L223.3,285.47 L224.91,286.16 L226.49,287.16 L228.06,287.63 L229.63,288.07 L231.2,288.54 L232.78,289.03 L234.35,289.08 L235.92,289.95 L237.49,290.06 L239.07,290.94 L240.65,291.1 L242.23,291.66 L243.81,292.15 L245.39,293.06 L246.97,293.52 L248.55,293.86 L250.13,294.74 L251.71,295.67 L253.29,295.87 L255.25,297.1 L257.2,298.37 L258.99,298.95 L260.78,299.89 L262.56,300.58 L264.35,301.09 L266.13,301.4 L267.74,301.67 L269.35,302.02 L270.96,302.62 L272.57,303.29 L274.17,303.68 L275.86,304.23 L277.55,304.53 L279.24,304.45 L280.93,304.81 L282.62,305.11 L284.79,307.25 L286.95,309.31 L293.96,309.31" fill="none" stroke="#55aa36" stroke-width="1.3" stroke-linejoin="round" stroke-linecap="round"/>
<path d="M194,261.2 L195.55,262.81 L197.09,264.28 L198.64,266.42 L200.18,268.1 L201.69,269.15 L203.21,270.18 L204.72,271.83 L206.23,273.09 L207.79,273.74 L209.34,274.61 L210.9,275.35 L212.46,277.01 L214.01,277.75 L215.57,278.3 L217.08,278.66 L218.59,279.74 L220.11,281.04 L221.62,281.42 L223.13,282.49 L224.9,283.95 L226.67,284.9 L228.45,285.96 L230.22,287.3 L231.99,288.17 L233.76,289.21 L235.53,289.55 L237.3,290.11 L239.07,290.94 L240.84,291.64 L242.61,291.84 L244.37,292.07 L246.14,293.06 L247.93,294.02 L249.72,294.33 L251.5,295.04 L253.29,295.18 L256.1,298.69" fill="none" stroke="#f39c1e" stroke-width="1.3" stroke-linejoin="round" stroke-linecap="round"/>
<path d="M194,261.2 L195.6,261.52 L197.19,262.98 L198.79,263.3 L200.39,264.07 L202.18,264.79 L203.96,265.04 L205.75,266.29 L207.53,266.88 L209.29,267.26 L211.04,267.57 L212.82,268.91 L214.61,270.39 L216.4,271.61 L218.18,272.62 L220.11,276.81 L221.82,277.82 L223.54,279.63" fill="none" stroke="#45166e" stroke-width="1.45" stroke-linejoin="round" stroke-linecap="round"/>
<circle cx="223.54" cy="279.63" r="0.95" fill="#45166e"/>
<path d="M194,258.1 V314.3" stroke="#000" stroke-width="1.1" fill="none"/>
<path d="M190.9,314.3 H194 M192.2,308.99 H194 M190.9,303.68 H194 M192.2,298.37 H194 M190.9,293.06 H194 M192.2,287.75 H194 M190.9,282.44 H194 M192.2,277.13 H194 M190.9,271.82 H194 M192.2,266.51 H194 M190.9,261.2 H194" stroke="#000" stroke-width="0.85" fill="none"/>
<text x="187.8" y="315.8" font-size="4.2" fill="#222" text-anchor="end" font-weight="normal" stroke="#222" stroke-width="0.2" >0%</text>
<text x="187.8" y="305.18" font-size="4.2" fill="#222" text-anchor="end" font-weight="normal" stroke="#222" stroke-width="0.2" >20%</text>
<text x="187.8" y="294.56" font-size="4.2" fill="#222" text-anchor="end" font-weight="normal" stroke="#222" stroke-width="0.2" >40%</text>
<text x="187.8" y="283.94" font-size="4.2" fill="#222" text-anchor="end" font-weight="normal" stroke="#222" stroke-width="0.2" >60%</text>
<text x="187.8" y="273.32" font-size="4.2" fill="#222" text-anchor="end" font-weight="normal" stroke="#222" stroke-width="0.2" >80%</text>
<text x="187.8" y="262.7" font-size="4.2" fill="#222" text-anchor="end" font-weight="normal" stroke="#222" stroke-width="0.2" >100%</text>
<path d="M190.9,314.3 H333.9" stroke="#000" stroke-width="1.1" fill="none"/>
<path d="M194,314.3 V317.1 M200.87,314.3 V315.9 M207.74,314.3 V315.9 M214.61,314.3 V315.9 M221.48,314.3 V315.9 M228.35,314.3 V317.1 M235.22,314.3 V315.9 M242.09,314.3 V315.9 M248.96,314.3 V315.9 M255.83,314.3 V315.9 M262.7,314.3 V317.1 M269.57,314.3 V315.9 M276.44,314.3 V315.9 M283.31,314.3 V315.9 M290.18,314.3 V315.9 M297.05,314.3 V317.1 M303.92,314.3 V315.9 M310.79,314.3 V315.9 M317.66,314.3 V315.9 M324.53,314.3 V315.9 M331.4,314.3 V317.1" stroke="#000" stroke-width="0.85" fill="none"/>
<text x="194" y="323.9" font-size="4.1" fill="#222" text-anchor="middle" font-weight="normal" stroke="#222" stroke-width="0.2" >0</text>
<text x="228.35" y="323.9" font-size="4.1" fill="#222" text-anchor="middle" font-weight="normal" stroke="#222" stroke-width="0.2" >5</text>
<text x="262.7" y="323.9" font-size="4.1" fill="#222" text-anchor="middle" font-weight="normal" stroke="#222" stroke-width="0.2" >10</text>
<text x="297.05" y="323.9" font-size="4.1" fill="#222" text-anchor="middle" font-weight="normal" stroke="#222" stroke-width="0.2" >15</text>
<text x="331.4" y="323.9" font-size="4.1" fill="#222" text-anchor="middle" font-weight="normal" stroke="#222" stroke-width="0.2" >20</text>
<text x="0" y="0" font-size="6.8" font-weight="bold" fill="#1a1a1a" stroke="#1a1a1a" stroke-width="0.12" transform="translate(238.9,334.1) scale(0.6,1)">Years from first transplant</text>
<text x="256.1" y="351" font-size="3.25" fill="#111" text-anchor="middle" font-weight="normal" stroke="#111" stroke-width="0.04" >Deaths / N</text>
<text x="276.7" y="347" font-size="3.25" fill="#111" text-anchor="middle" font-weight="normal" stroke="#111" stroke-width="0.04" >Median</text>
<text x="276.7" y="351" font-size="3.25" fill="#111" text-anchor="middle" font-weight="normal" stroke="#111" stroke-width="0.04" >in Years</text>
<text x="298.6" y="347" font-size="3.25" fill="#111" text-anchor="middle" font-weight="normal" stroke="#111" stroke-width="0.04" >5-Year</text>
<text x="298.6" y="351" font-size="3.25" fill="#111" text-anchor="middle" font-weight="normal" stroke="#111" stroke-width="0.04" >Estimate</text>
<text x="220.6" y="355.2" font-size="3.25" fill="#4563a8" text-anchor="start" font-weight="normal" stroke="#4563a8" stroke-width="0.04" >1997 or Earlier</text>
<text x="256.1" y="355.2" font-size="3.25" fill="#4563a8" text-anchor="middle" font-weight="normal" stroke="#4563a8" stroke-width="0.04" >60 / 62</text>
<text x="276.7" y="355.2" font-size="3.25" fill="#4563a8" text-anchor="middle" font-weight="normal" stroke="#4563a8" stroke-width="0.04" >3 (3, 5)</text>
<text x="298.6" y="355.2" font-size="3.25" fill="#4563a8" text-anchor="middle" font-weight="normal" stroke="#4563a8" stroke-width="0.04" >35% (23, 47)</text>
<text x="220.6" y="359.08" font-size="3.25" fill="#c20f3e" text-anchor="start" font-weight="normal" stroke="#c20f3e" stroke-width="0.04" >1998-2003</text>
<text x="256.1" y="359.08" font-size="3.25" fill="#c20f3e" text-anchor="middle" font-weight="normal" stroke="#c20f3e" stroke-width="0.04" >198 / 225</text>
<text x="276.7" y="359.08" font-size="3.25" fill="#c20f3e" text-anchor="middle" font-weight="normal" stroke="#c20f3e" stroke-width="0.04" >4 (3, 5)</text>
<text x="298.6" y="359.08" font-size="3.25" fill="#c20f3e" text-anchor="middle" font-weight="normal" stroke="#c20f3e" stroke-width="0.04" >45% (38, 51)</text>
<text x="220.6" y="362.96" font-size="3.25" fill="#55aa36" text-anchor="start" font-weight="normal" stroke="#55aa36" stroke-width="0.04" >2004-2008</text>
<text x="256.1" y="362.96" font-size="3.25" fill="#55aa36" text-anchor="middle" font-weight="normal" stroke="#55aa36" stroke-width="0.04" >298 / 384</text>
<text x="276.7" y="362.96" font-size="3.25" fill="#55aa36" text-anchor="middle" font-weight="normal" stroke="#55aa36" stroke-width="0.04" >5 (4, 6)</text>
<text x="298.6" y="362.96" font-size="3.25" fill="#55aa36" text-anchor="middle" font-weight="normal" stroke="#55aa36" stroke-width="0.04" >51% (46, 56)</text>
<text x="220.6" y="366.84" font-size="3.25" fill="#f39c1e" text-anchor="start" font-weight="normal" stroke="#f39c1e" stroke-width="0.04" >2009-2013</text>
<text x="256.1" y="366.84" font-size="3.25" fill="#f39c1e" text-anchor="middle" font-weight="normal" stroke="#f39c1e" stroke-width="0.04" >176 / 304</text>
<text x="276.7" y="366.84" font-size="3.25" fill="#f39c1e" text-anchor="middle" font-weight="normal" stroke="#f39c1e" stroke-width="0.04" >5 (4, 6)</text>
<text x="298.6" y="366.84" font-size="3.25" fill="#f39c1e" text-anchor="middle" font-weight="normal" stroke="#f39c1e" stroke-width="0.04" >51% (45, 57)</text>
<text x="220.6" y="370.72" font-size="3.25" fill="#45166e" text-anchor="start" font-weight="normal" stroke="#45166e" stroke-width="0.04" >2014 or Later</text>
<text x="256.1" y="370.72" font-size="3.25" fill="#45166e" text-anchor="middle" font-weight="normal" stroke="#45166e" stroke-width="0.04" >37 / 227</text>
<text x="276.7" y="370.72" font-size="3.25" fill="#45166e" text-anchor="middle" font-weight="normal" stroke="#45166e" stroke-width="0.04" >NR</text>
<text x="298.6" y="370.72" font-size="3.25" fill="#45166e" text-anchor="middle" font-weight="normal" stroke="#45166e" stroke-width="0.04" >63% (45, 78)</text>
<text x="264" y="374.9" font-size="3.05" fill="#111" text-anchor="middle" font-weight="normal" stroke="#111" stroke-width="0.04" >Log-rank p-value &lt; .0001</text>
<path d="M185.2,384.5 V416.72 M211.6,384.5 V416.72 M237.95,384.5 V416.72 M264.35,384.5 V416.72 M290.8,384.5 V416.72 M317.2,384.5 V416.72 M343.6,384.5 V416.72 M185.2,384.5 H343.6 M185.2,389.87 H343.6 M185.2,395.24 H343.6 M185.2,400.61 H343.6 M185.2,405.98 H343.6 M185.2,411.35 H343.6 M185.2,416.72 H343.6" stroke="#444" stroke-width="1.0" fill="none" stroke-linecap="square"/>
<text x="187.5" y="388.3" font-size="3.1" fill="#111" text-anchor="start" font-weight="normal" stroke="#111" stroke-width="0.045" >Pairwise p-value</text>
<text x="224.77" y="388.3" font-size="3.1" fill="#4563a8" text-anchor="middle" font-weight="normal" stroke="#4563a8" stroke-width="0.045" >1997 or Earlier</text>
<text x="251.15" y="388.3" font-size="3.1" fill="#c20f3e" text-anchor="middle" font-weight="normal" stroke="#c20f3e" stroke-width="0.045" >1998-2003</text>
<text x="277.57" y="388.3" font-size="3.1" fill="#55aa36" text-anchor="middle" font-weight="normal" stroke="#55aa36" stroke-width="0.045" >2004-2008</text>
<text x="304" y="388.3" font-size="3.1" fill="#f39c1e" text-anchor="middle" font-weight="normal" stroke="#f39c1e" stroke-width="0.045" >2009-2013</text>
<text x="330.4" y="388.3" font-size="3.1" fill="#45166e" text-anchor="middle" font-weight="normal" stroke="#45166e" stroke-width="0.045" >2014 or Later</text>
<text x="187.5" y="393.67" font-size="3.1" fill="#4563a8" text-anchor="start" font-weight="normal" stroke="#4563a8" stroke-width="0.045" >1997 or Earlier</text>
<text x="214.6" y="393.67" font-size="3.1" fill="#222" text-anchor="start" font-weight="normal" stroke="#222" stroke-width="0.045" >-</text>
<text x="187.5" y="399.04" font-size="3.1" fill="#c20f3e" text-anchor="start" font-weight="normal" stroke="#c20f3e" stroke-width="0.045" >1998-2003</text>
<text x="214.6" y="399.04" font-size="3.1" fill="#222" text-anchor="start" font-weight="normal" stroke="#222" stroke-width="0.045" >0.08</text>
<text x="240.95" y="399.04" font-size="3.1" fill="#222" text-anchor="start" font-weight="normal" stroke="#222" stroke-width="0.045" >-</text>
<text x="187.5" y="404.41" font-size="3.1" fill="#55aa36" text-anchor="start" font-weight="normal" stroke="#55aa36" stroke-width="0.045" >2004-2008</text>
<text x="214.6" y="404.41" font-size="3.1" fill="#222" text-anchor="start" font-weight="normal" stroke="#222" stroke-width="0.045" >0.02</text>
<text x="240.95" y="404.41" font-size="3.1" fill="#222" text-anchor="start" font-weight="normal" stroke="#222" stroke-width="0.045" >0.42</text>
<text x="267.35" y="404.41" font-size="3.1" fill="#222" text-anchor="start" font-weight="normal" stroke="#222" stroke-width="0.045" >-</text>
<text x="187.5" y="409.78" font-size="3.1" fill="#f39c1e" text-anchor="start" font-weight="normal" stroke="#f39c1e" stroke-width="0.045" >2009-2013</text>
<text x="214.6" y="409.78" font-size="3.1" fill="#222" text-anchor="start" font-weight="normal" stroke="#222" stroke-width="0.045" >0.03</text>
<text x="240.95" y="409.78" font-size="3.1" fill="#222" text-anchor="start" font-weight="normal" stroke="#222" stroke-width="0.045" >0.12</text>
<text x="267.35" y="409.78" font-size="3.1" fill="#222" text-anchor="start" font-weight="normal" stroke="#222" stroke-width="0.045" >0.88</text>
<text x="293.8" y="409.78" font-size="3.1" fill="#222" text-anchor="start" font-weight="normal" stroke="#222" stroke-width="0.045" >-</text>
<text x="187.5" y="415.15" font-size="3.1" fill="#45166e" text-anchor="start" font-weight="normal" stroke="#45166e" stroke-width="0.045" >2014 or Later</text>
<text x="214.6" y="415.15" font-size="3.1" fill="#222" text-anchor="start" font-weight="normal" stroke="#222" stroke-width="0.045" >0.0004</text>
<text x="240.95" y="415.15" font-size="3.1" fill="#222" text-anchor="start" font-weight="normal" stroke="#222" stroke-width="0.045" >&lt;0.0001</text>
<text x="267.35" y="415.15" font-size="3.1" fill="#222" text-anchor="start" font-weight="normal" stroke="#222" stroke-width="0.045" >0.0001</text>
<text x="293.8" y="415.15" font-size="3.1" fill="#222" text-anchor="start" font-weight="normal" stroke="#222" stroke-width="0.045" >0.003</text>
<text x="320.2" y="415.15" font-size="3.1" fill="#222" text-anchor="start" font-weight="normal" stroke="#222" stroke-width="0.045" >-</text>
<text x="343.7" y="229.2" font-size="11.6" fill="#000" text-anchor="start" font-weight="bold" stroke="#000" stroke-width="0.35" >F</text>
<text x="434.1" y="238.4" font-size="6.1" fill="#111" text-anchor="middle" font-weight="normal" stroke="#111" stroke-width="0.14" >Overall Survival by Year of 1st Transplant</text>
<text x="434.1" y="245.95" font-size="6.1" fill="#111" text-anchor="middle" font-weight="normal" stroke="#111" stroke-width="0.14" >Younger HDTX Study Population</text>
<text x="434.1" y="253.5" font-size="6.1" fill="#111" text-anchor="middle" font-weight="normal" stroke="#111" stroke-width="0.14" >(less than 65yo)</text>
<path d="M363.7,261.2 L365.19,263.08 L366.68,264.6 L367.86,266.42 L369.04,268.62 L370.22,270 L371.4,272.19 L372.59,273.63 L373.79,275.17 L374.98,276.03 L376.17,277.82 L377.35,279.05 L378.53,280.5 L379.71,282.2 L380.89,283.87 L381.99,285.04 L383.09,285.71 L384.19,286.72 L385.3,287.06 L386.4,288.68 L387.5,289.08 L388.57,289.41 L389.64,290.62 L390.72,291.11 L391.79,291.41 L392.87,291.98 L393.94,292.75 L395.02,293.38 L396.18,293.88 L397.34,294.41 L398.5,294.96 L399.66,295.98 L400.82,296.36 L401.98,296.72 L403.02,297.51 L404.05,297.44 L405.09,298.05 L406.12,298.48 L407.16,298.84 L408.19,298.68 L409.23,299.43 L410.25,299.8 L411.27,299.66 L412.29,299.87 L413.32,300.38 L414.34,300.31 L415.36,300.8 L416.38,300.8 L417.4,301.24 L418.43,301.36 L419.45,301.48 L420.47,301.74 L421.49,301.75 L422.51,302.03 L423.53,302.3 L424.64,302.98 L425.75,302.97 L426.86,303.65 L427.97,303.94 L429.07,304.15 L430.18,304.42 L431.2,304.7 L432.21,304.8 L433.23,304.82 L434.24,305.11 L435.26,305.41 L436.27,305.48 L437.29,305.97 L438.3,305.94 L439.32,306.03 L440.33,306.24 L441.35,306.63 L442.37,306.8 L443.38,307.09 L444.4,307.24 L445.44,307.31 L446.48,307.3 L447.52,307.47 L448.56,307.44 L449.61,307.59 L450.65,307.61 L451.69,307.67 L452.73,307.8 L453.77,307.8 L454.82,307.93 L455.86,307.93 L456.92,307.94 L457.98,308.12 L459.04,308.42 L460.1,308.52 L461.16,308.71 L462.22,309.07 L463.28,309.29 L464.34,309.31 L465.37,309.76 L466.4,310.08 L467.44,310.38 L468.47,310.59 L469.5,310.88 L470.53,311.43 L471.64,311.59 L472.76,311.98 L473.87,312.04 L474.98,312.11 L476.1,312.2 L477.21,312.7 L478.32,312.71 L479.47,312.58 L480.62,312.53 L481.76,312.47 L482.91,312.29 L484.06,312.3 L485.2,312.18" fill="none" stroke="#4563a8" stroke-width="1.0" stroke-linejoin="round" stroke-linecap="round"/>
<path d="M363.7,261.2 L364.92,262.62 L366.15,263.98 L367.37,265.45 L368.71,266.14 L370.06,267.6 L371.4,268.42 L372.48,269.81 L373.56,270.66 L374.65,272.08 L375.73,273.41 L376.81,274.58 L377.89,275.87 L378.97,276.92 L380.03,277.76 L381.1,277.84 L382.17,278.11 L383.23,278.83 L384.3,279.41 L385.36,280.22 L386.43,280.65 L387.5,281.11 L388.58,281.95 L389.66,281.88 L390.74,282.79 L391.82,283.28 L392.9,283.12 L393.98,284.22 L395.06,284.56 L396.22,284.71 L397.37,285.65 L398.52,286.12 L399.68,286.85 L400.83,287.88 L401.98,288.17 L403.02,288.39 L404.05,289.17 L405.09,289.44 L406.12,290.06 L407.16,290.52 L408.19,290.65 L409.23,290.94 L410.25,291.66 L411.27,291.73 L412.29,291.73 L413.32,291.97 L414.34,292.76 L415.36,293.35 L416.38,293.52 L417.4,294.09 L418.43,294.33 L419.45,294.37 L420.47,294.73 L421.49,295.52 L422.51,295.53 L423.53,295.87 L424.66,296.66 L425.79,297.39 L426.92,298.36 L428.05,298.82 L429.17,299.43 L430.19,299.87 L431.2,299.81 L432.22,300.07 L433.23,300.31 L434.25,300.67 L435.26,300.62 L436.28,301.16 L437.29,301.48 L438.31,301.63 L439.32,301.59 L440.34,302.22 L441.35,302.14 L442.37,302.29 L443.38,302.57 L444.4,302.99 L445.48,303.37 L446.57,303.74 L447.66,303.8 L448.75,304.42 L449.77,304.38 L450.78,304.34 L451.8,304.35 L452.81,304.29 L453.83,304.26 L454.84,304.26 L455.86,304.21" fill="none" stroke="#c20f3e" stroke-width="1.25" stroke-linejoin="round" stroke-linecap="round"/>
<path d="M363.7,261.2 L364.74,261.78 L365.77,263.49 L366.81,263.71 L367.84,265.4 L368.88,266.17 L369.92,266.75 L370.95,268.25 L371.99,269.09 L373.03,270.41 L374.06,271.08 L375.08,271.46 L376.11,272.25 L377.13,273.85 L378.15,274.71 L379.17,275.2 L380.19,275.97 L381.21,276.81 L382.23,277.05 L383.25,277.96 L384.26,278.23 L385.28,279.14 L386.29,279.59 L387.31,280.22 L388.32,280.32 L389.44,280.75 L390.57,281.21 L391.69,281.64 L392.81,281.82 L393.94,282.89 L395.06,283.18 L396.07,283.55 L397.08,283.76 L398.09,283.74 L399.1,284.4 L400.1,284.56 L401.12,285.14 L402.13,285.42 L403.15,285.59 L404.16,286.33 L405.17,286.82 L406.19,286.74 L407.2,287.27 L408.22,287.66 L409.23,288.12 L410.25,288.84 L411.27,289.02 L412.29,289.48 L413.32,289.64 L414.34,289.58 L415.36,289.87 L416.38,290.33 L417.4,291.04 L418.43,291.25 L419.45,291.35 L420.47,292.12 L421.49,292.43 L422.51,292.54 L423.53,293.06 L424.66,293.77 L425.79,294.21 L426.92,294.88 L428.05,295 L429.17,295.87" fill="none" stroke="#55aa36" stroke-width="1.3" stroke-linejoin="round" stroke-linecap="round"/>
<path d="M363.7,261.2 L364.74,262.17 L365.77,263.23 L366.81,263.56 L367.84,264.89 L368.88,266.19 L369.92,266.47 L370.95,268.04 L371.99,268.83 L373.03,269.87 L374.06,270.39 L375.08,270.98 L376.11,271.49 L377.13,272.42 L378.15,273.5 L379.17,273.62 L380.19,274.31 L381.21,275.38 L382.23,275.93 L383.25,276.38 L384.26,276.43 L385.28,276.57 L386.29,277.03 L387.31,277.46 L388.32,278.19 L389.44,278.58 L390.57,279.64 L391.69,279.86 L392.81,280.63 L393.94,281.02 L395.06,281.75 L396.07,281.89 L397.08,282.11 L398.09,282.04 L399.1,282.44 L400.1,282.44 L401.27,282.9 L402.44,283.26 L403.61,283.19 L404.78,284.11 L405.95,284.16 L407.12,284.56" fill="none" stroke="#f39c1e" stroke-width="1.3" stroke-linejoin="round" stroke-linecap="round"/>
<path d="M363.7,261.2 L364.8,261.95 L365.9,262.53 L367,263.38 L368.18,264.05 L369.35,264.14 L370.53,265.59 L371.71,265.25 L372.89,266.1 L374.06,266.88 L375.14,267.12 L376.22,267.65 L377.29,268.76 L378.37,269.01 L379.79,269.74 L381.21,271.08 L382.61,272.36 L384.01,273.94" fill="none" stroke="#45166e" stroke-width="1.45" stroke-linejoin="round" stroke-linecap="round"/>
<circle cx="384.01" cy="273.94" r="0.95" fill="#45166e"/>
<path d="M363.7,258.1 V314.3" stroke="#000" stroke-width="1.1" fill="none"/>
<path d="M360.6,314.3 H363.7 M361.9,308.99 H363.7 M360.6,303.68 H363.7 M361.9,298.37 H363.7 M360.6,293.06 H363.7 M361.9,287.75 H363.7 M360.6,282.44 H363.7 M361.9,277.13 H363.7 M360.6,271.82 H363.7 M361.9,266.51 H363.7 M360.6,261.2 H363.7" stroke="#000" stroke-width="0.85" fill="none"/>
<text x="357.5" y="315.8" font-size="4.2" fill="#222" text-anchor="end" font-weight="normal" stroke="#222" stroke-width="0.2" >0%</text>
<text x="357.5" y="305.18" font-size="4.2" fill="#222" text-anchor="end" font-weight="normal" stroke="#222" stroke-width="0.2" >20%</text>
<text x="357.5" y="294.56" font-size="4.2" fill="#222" text-anchor="end" font-weight="normal" stroke="#222" stroke-width="0.2" >40%</text>
<text x="357.5" y="283.94" font-size="4.2" fill="#222" text-anchor="end" font-weight="normal" stroke="#222" stroke-width="0.2" >60%</text>
<text x="357.5" y="273.32" font-size="4.2" fill="#222" text-anchor="end" font-weight="normal" stroke="#222" stroke-width="0.2" >80%</text>
<text x="357.5" y="262.7" font-size="4.2" fill="#222" text-anchor="end" font-weight="normal" stroke="#222" stroke-width="0.2" >100%</text>
<path d="M360.6,314.3 H503.75" stroke="#000" stroke-width="1.1" fill="none"/>
<path d="M363.7,314.3 V317.1 M386.62,314.3 V317.1 M409.55,314.3 V317.1 M432.48,314.3 V317.1 M455.4,314.3 V317.1 M478.32,314.3 V317.1 M501.25,314.3 V317.1" stroke="#000" stroke-width="0.85" fill="none"/>
<text x="363.7" y="323.9" font-size="4.1" fill="#222" text-anchor="middle" font-weight="normal" stroke="#222" stroke-width="0.2" >0</text>
<text x="386.62" y="323.9" font-size="4.1" fill="#222" text-anchor="middle" font-weight="normal" stroke="#222" stroke-width="0.2" >5</text>
<text x="409.55" y="323.9" font-size="4.1" fill="#222" text-anchor="middle" font-weight="normal" stroke="#222" stroke-width="0.2" >10</text>
<text x="432.48" y="323.9" font-size="4.1" fill="#222" text-anchor="middle" font-weight="normal" stroke="#222" stroke-width="0.2" >15</text>
<text x="455.4" y="323.9" font-size="4.1" fill="#222" text-anchor="middle" font-weight="normal" stroke="#222" stroke-width="0.2" >20</text>
<text x="478.32" y="323.9" font-size="4.1" fill="#222" text-anchor="middle" font-weight="normal" stroke="#222" stroke-width="0.2" >25</text>
<text x="501.25" y="323.9" font-size="4.1" fill="#222" text-anchor="middle" font-weight="normal" stroke="#222" stroke-width="0.2" >30</text>
<text x="0" y="0" font-size="6.8" font-weight="bold" fill="#1a1a1a" stroke="#1a1a1a" stroke-width="0.12" transform="translate(408.6,334.1) scale(0.6,1)">Years from first transplant</text>
<text x="425.8" y="351" font-size="3.25" fill="#111" text-anchor="middle" font-weight="normal" stroke="#111" stroke-width="0.04" >Deaths / N</text>
<text x="446.4" y="347" font-size="3.25" fill="#111" text-anchor="middle" font-weight="normal" stroke="#111" stroke-width="0.04" >Median</text>
<text x="446.4" y="351" font-size="3.25" fill="#111" text-anchor="middle" font-weight="normal" stroke="#111" stroke-width="0.04" >in Years</text>
<text x="468.3" y="347" font-size="3.25" fill="#111" text-anchor="middle" font-weight="normal" stroke="#111" stroke-width="0.04" >5-Year</text>
<text x="468.3" y="351" font-size="3.25" fill="#111" text-anchor="middle" font-weight="normal" stroke="#111" stroke-width="0.04" >Estimate</text>
<text x="390.3" y="355.2" font-size="3.25" fill="#4563a8" text-anchor="start" font-weight="normal" stroke="#4563a8" stroke-width="0.04" >1997 or Earlier</text>
<text x="425.8" y="355.2" font-size="3.25" fill="#4563a8" text-anchor="middle" font-weight="normal" stroke="#4563a8" stroke-width="0.04" >533 / 599</text>
<text x="446.4" y="355.2" font-size="3.25" fill="#4563a8" text-anchor="middle" font-weight="normal" stroke="#4563a8" stroke-width="0.04" >5 (4, 5)</text>
<text x="468.3" y="355.2" font-size="3.25" fill="#4563a8" text-anchor="middle" font-weight="normal" stroke="#4563a8" stroke-width="0.04" >48% (44, 52)</text>
<text x="390.3" y="359.08" font-size="3.25" fill="#c20f3e" text-anchor="start" font-weight="normal" stroke="#c20f3e" stroke-width="0.04" >1998-2003</text>
<text x="425.8" y="359.08" font-size="3.25" fill="#c20f3e" text-anchor="middle" font-weight="normal" stroke="#c20f3e" stroke-width="0.04" >560 / 779</text>
<text x="446.4" y="359.08" font-size="3.25" fill="#c20f3e" text-anchor="middle" font-weight="normal" stroke="#c20f3e" stroke-width="0.04" >8 (7, 9)</text>
<text x="468.3" y="359.08" font-size="3.25" fill="#c20f3e" text-anchor="middle" font-weight="normal" stroke="#c20f3e" stroke-width="0.04" >62% (58, 65)</text>
<text x="390.3" y="362.96" font-size="3.25" fill="#55aa36" text-anchor="start" font-weight="normal" stroke="#55aa36" stroke-width="0.04" >2004-2008</text>
<text x="425.8" y="362.96" font-size="3.25" fill="#55aa36" text-anchor="middle" font-weight="normal" stroke="#55aa36" stroke-width="0.04" >499 / 910</text>
<text x="446.4" y="362.96" font-size="3.25" fill="#55aa36" text-anchor="middle" font-weight="normal" stroke="#55aa36" stroke-width="0.04" >9 (8, 10)</text>
<text x="468.3" y="362.96" font-size="3.25" fill="#55aa36" text-anchor="middle" font-weight="normal" stroke="#55aa36" stroke-width="0.04" >67% (64, 70)</text>
<text x="390.3" y="366.84" font-size="3.25" fill="#f39c1e" text-anchor="start" font-weight="normal" stroke="#f39c1e" stroke-width="0.04" >2009-2013</text>
<text x="425.8" y="366.84" font-size="3.25" fill="#f39c1e" text-anchor="middle" font-weight="normal" stroke="#f39c1e" stroke-width="0.04" >204 / 530</text>
<text x="446.4" y="366.84" font-size="3.25" fill="#f39c1e" text-anchor="middle" font-weight="normal" stroke="#f39c1e" stroke-width="0.04" >NR</text>
<text x="468.3" y="366.84" font-size="3.25" fill="#f39c1e" text-anchor="middle" font-weight="normal" stroke="#f39c1e" stroke-width="0.04" >67% (63, 71)</text>
<text x="390.3" y="370.72" font-size="3.25" fill="#45166e" text-anchor="start" font-weight="normal" stroke="#45166e" stroke-width="0.04" >2014 or Later</text>
<text x="425.8" y="370.72" font-size="3.25" fill="#45166e" text-anchor="middle" font-weight="normal" stroke="#45166e" stroke-width="0.04" >39 / 308</text>
<text x="446.4" y="370.72" font-size="3.25" fill="#45166e" text-anchor="middle" font-weight="normal" stroke="#45166e" stroke-width="0.04" >NR</text>
<text x="468.3" y="370.72" font-size="3.25" fill="#45166e" text-anchor="middle" font-weight="normal" stroke="#45166e" stroke-width="0.04" >74% (63, 85)</text>
<text x="433.7" y="374.9" font-size="3.05" fill="#111" text-anchor="middle" font-weight="normal" stroke="#111" stroke-width="0.04" >Log-rank p-value &lt; .0001</text>
<path d="M354.9,384.5 V416.72 M381.3,384.5 V416.72 M407.65,384.5 V416.72 M434.05,384.5 V416.72 M460.5,384.5 V416.72 M486.9,384.5 V416.72 M513.3,384.5 V416.72 M354.9,384.5 H513.3 M354.9,389.87 H513.3 M354.9,395.24 H513.3 M354.9,400.61 H513.3 M354.9,405.98 H513.3 M354.9,411.35 H513.3 M354.9,416.72 H513.3" stroke="#444" stroke-width="1.0" fill="none" stroke-linecap="square"/>
<text x="357.2" y="388.3" font-size="3.1" fill="#111" text-anchor="start" font-weight="normal" stroke="#111" stroke-width="0.045" >Pairwise p-value</text>
<text x="394.48" y="388.3" font-size="3.1" fill="#4563a8" text-anchor="middle" font-weight="normal" stroke="#4563a8" stroke-width="0.045" >1997 or Earlier</text>
<text x="420.85" y="388.3" font-size="3.1" fill="#c20f3e" text-anchor="middle" font-weight="normal" stroke="#c20f3e" stroke-width="0.045" >1998-2003</text>
<text x="447.27" y="388.3" font-size="3.1" fill="#55aa36" text-anchor="middle" font-weight="normal" stroke="#55aa36" stroke-width="0.045" >2004-2008</text>
<text x="473.7" y="388.3" font-size="3.1" fill="#f39c1e" text-anchor="middle" font-weight="normal" stroke="#f39c1e" stroke-width="0.045" >2009-2013</text>
<text x="500.1" y="388.3" font-size="3.1" fill="#45166e" text-anchor="middle" font-weight="normal" stroke="#45166e" stroke-width="0.045" >2014 or Later</text>
<text x="357.2" y="393.67" font-size="3.1" fill="#4563a8" text-anchor="start" font-weight="normal" stroke="#4563a8" stroke-width="0.045" >1997 or Earlier</text>
<text x="384.3" y="393.67" font-size="3.1" fill="#222" text-anchor="start" font-weight="normal" stroke="#222" stroke-width="0.045" >-</text>
<text x="357.2" y="399.04" font-size="3.1" fill="#c20f3e" text-anchor="start" font-weight="normal" stroke="#c20f3e" stroke-width="0.045" >1998-2003</text>
<text x="384.3" y="399.04" font-size="3.1" fill="#222" text-anchor="start" font-weight="normal" stroke="#222" stroke-width="0.045" >&lt;0.0001</text>
<text x="410.65" y="399.04" font-size="3.1" fill="#222" text-anchor="start" font-weight="normal" stroke="#222" stroke-width="0.045" >-</text>
<text x="357.2" y="404.41" font-size="3.1" fill="#55aa36" text-anchor="start" font-weight="normal" stroke="#55aa36" stroke-width="0.045" >2004-2008</text>
<text x="384.3" y="404.41" font-size="3.1" fill="#222" text-anchor="start" font-weight="normal" stroke="#222" stroke-width="0.045" >&lt;0.0001</text>
<text x="410.65" y="404.41" font-size="3.1" fill="#222" text-anchor="start" font-weight="normal" stroke="#222" stroke-width="0.045" >0.11</text>
<text x="437.05" y="404.41" font-size="3.1" fill="#222" text-anchor="start" font-weight="normal" stroke="#222" stroke-width="0.045" >-</text>
<text x="357.2" y="409.78" font-size="3.1" fill="#f39c1e" text-anchor="start" font-weight="normal" stroke="#f39c1e" stroke-width="0.045" >2009-2013</text>
<text x="384.3" y="409.78" font-size="3.1" fill="#222" text-anchor="start" font-weight="normal" stroke="#222" stroke-width="0.045" >&lt;0.0001</text>
<text x="410.65" y="409.78" font-size="3.1" fill="#222" text-anchor="start" font-weight="normal" stroke="#222" stroke-width="0.045" >0.08</text>
<text x="437.05" y="409.78" font-size="3.1" fill="#222" text-anchor="start" font-weight="normal" stroke="#222" stroke-width="0.045" >0.80</text>
<text x="463.5" y="409.78" font-size="3.1" fill="#222" text-anchor="start" font-weight="normal" stroke="#222" stroke-width="0.045" >-</text>
<text x="357.2" y="415.15" font-size="3.1" fill="#45166e" text-anchor="start" font-weight="normal" stroke="#45166e" stroke-width="0.045" >2014 or Later</text>
<text x="384.3" y="415.15" font-size="3.1" fill="#222" text-anchor="start" font-weight="normal" stroke="#222" stroke-width="0.045" >&lt;0.0001</text>
<text x="410.65" y="415.15" font-size="3.1" fill="#222" text-anchor="start" font-weight="normal" stroke="#222" stroke-width="0.045" >0.0006</text>
<text x="437.05" y="415.15" font-size="3.1" fill="#222" text-anchor="start" font-weight="normal" stroke="#222" stroke-width="0.045" >0.003</text>
<text x="463.5" y="415.15" font-size="3.1" fill="#222" text-anchor="start" font-weight="normal" stroke="#222" stroke-width="0.045" >0.03</text>
<text x="489.9" y="415.15" font-size="3.1" fill="#222" text-anchor="start" font-weight="normal" stroke="#222" stroke-width="0.045" >-</text>
<path d="M0.55,0 V424 M0,0.55 H520 M519.45,0 V424 M0,423.4 H520" stroke="#000" stroke-width="1.15" fill="none"/>
</svg></div>
</body></html>
